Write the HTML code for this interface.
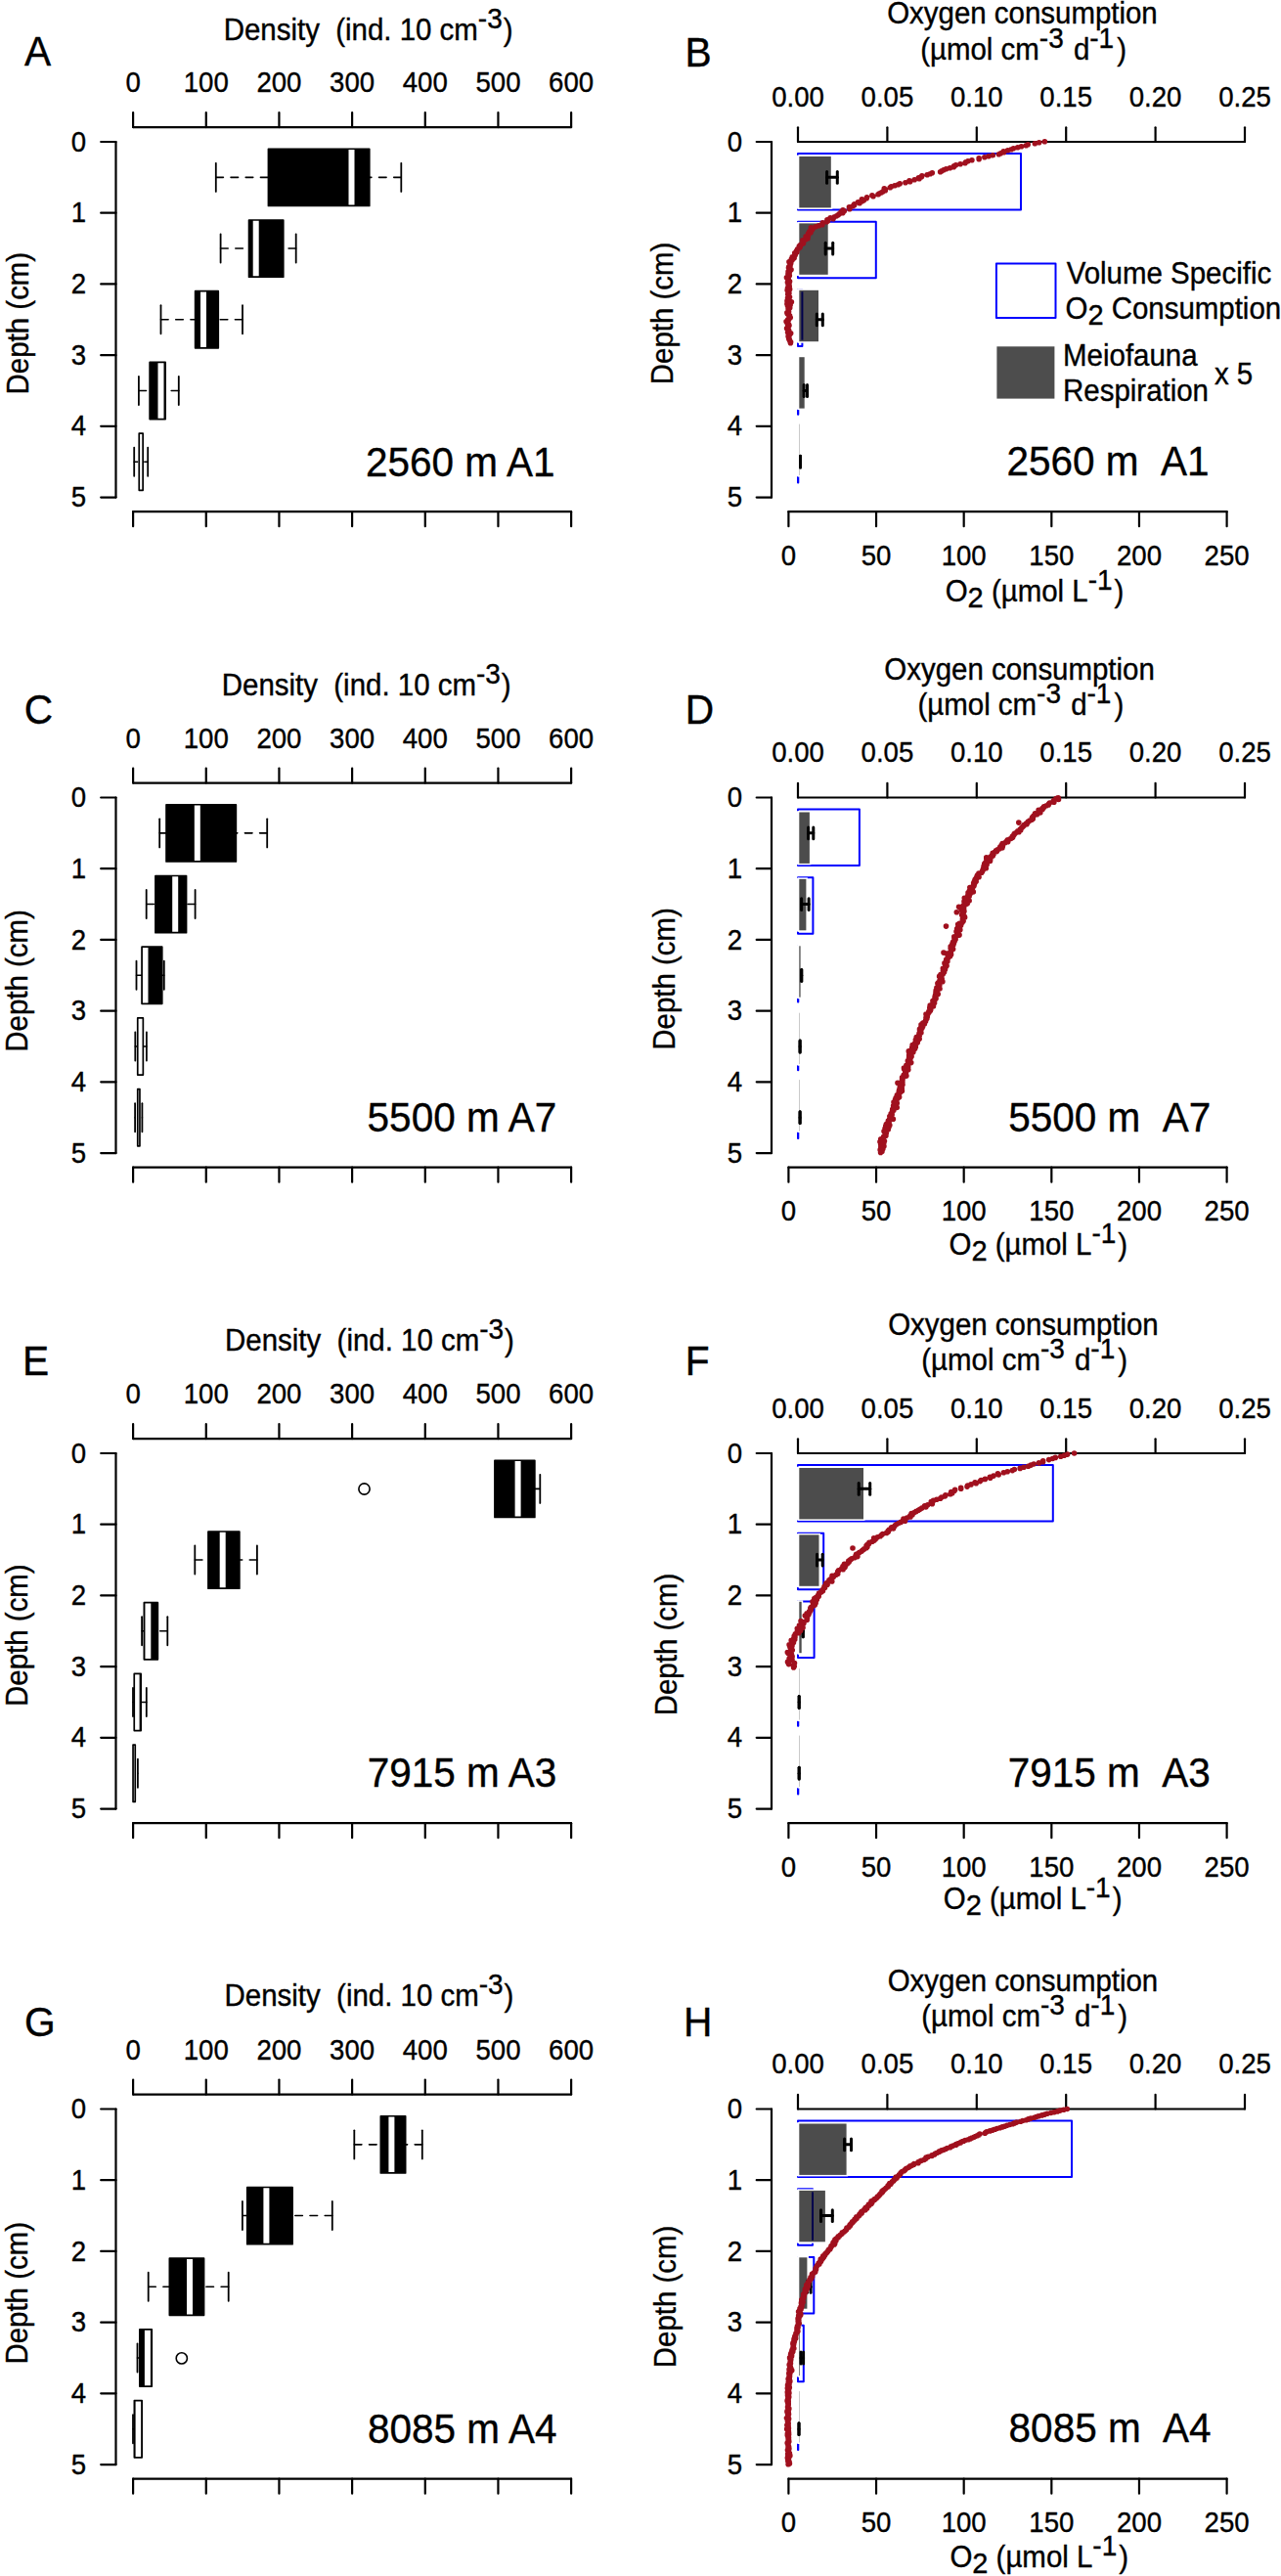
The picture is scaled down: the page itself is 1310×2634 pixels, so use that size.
<!DOCTYPE html>
<html><head><meta charset="utf-8"><style>
html,body{margin:0;padding:0;background:#fff;}
svg{display:block;}
text{font-family:"Liberation Sans", sans-serif;fill:#000;stroke:#000;stroke-width:0.35px;}
</style></head><body>
<svg width="1310" height="2634" viewBox="0 0 1310 2634">
<rect x="0" y="0" width="1310" height="2634" fill="#fff"/>
<line x1="136.1" y1="130.1" x2="584.12" y2="130.1" stroke="#000" stroke-width="2.2" stroke-linecap="round" />
<line x1="136.1" y1="130.1" x2="136.1" y2="115" stroke="#000" stroke-width="2.2" stroke-linecap="round" />
<text transform="translate(136.1 94.4) scale(1 1.04)" font-size="27.6" text-anchor="middle" >0</text>
<line x1="210.77" y1="130.1" x2="210.77" y2="115" stroke="#000" stroke-width="2.2" stroke-linecap="round" />
<text transform="translate(210.77 94.4) scale(1 1.04)" font-size="27.6" text-anchor="middle" >100</text>
<line x1="285.44" y1="130.1" x2="285.44" y2="115" stroke="#000" stroke-width="2.2" stroke-linecap="round" />
<text transform="translate(285.44 94.4) scale(1 1.04)" font-size="27.6" text-anchor="middle" >200</text>
<line x1="360.11" y1="130.1" x2="360.11" y2="115" stroke="#000" stroke-width="2.2" stroke-linecap="round" />
<text transform="translate(360.11 94.4) scale(1 1.04)" font-size="27.6" text-anchor="middle" >300</text>
<line x1="434.78" y1="130.1" x2="434.78" y2="115" stroke="#000" stroke-width="2.2" stroke-linecap="round" />
<text transform="translate(434.78 94.4) scale(1 1.04)" font-size="27.6" text-anchor="middle" >400</text>
<line x1="509.45" y1="130.1" x2="509.45" y2="115" stroke="#000" stroke-width="2.2" stroke-linecap="round" />
<text transform="translate(509.45 94.4) scale(1 1.04)" font-size="27.6" text-anchor="middle" >500</text>
<line x1="584.12" y1="130.1" x2="584.12" y2="115" stroke="#000" stroke-width="2.2" stroke-linecap="round" />
<text transform="translate(584.12 94.4) scale(1 1.04)" font-size="27.6" text-anchor="middle" >600</text>
<line x1="136.1" y1="523.2" x2="584.12" y2="523.2" stroke="#000" stroke-width="2.2" stroke-linecap="round" />
<line x1="136.1" y1="523.2" x2="136.1" y2="538.2" stroke="#000" stroke-width="2.2" stroke-linecap="round" />
<line x1="210.77" y1="523.2" x2="210.77" y2="538.2" stroke="#000" stroke-width="2.2" stroke-linecap="round" />
<line x1="285.44" y1="523.2" x2="285.44" y2="538.2" stroke="#000" stroke-width="2.2" stroke-linecap="round" />
<line x1="360.11" y1="523.2" x2="360.11" y2="538.2" stroke="#000" stroke-width="2.2" stroke-linecap="round" />
<line x1="434.78" y1="523.2" x2="434.78" y2="538.2" stroke="#000" stroke-width="2.2" stroke-linecap="round" />
<line x1="509.45" y1="523.2" x2="509.45" y2="538.2" stroke="#000" stroke-width="2.2" stroke-linecap="round" />
<line x1="584.12" y1="523.2" x2="584.12" y2="538.2" stroke="#000" stroke-width="2.2" stroke-linecap="round" />
<line x1="118.5" y1="145" x2="118.5" y2="508.55" stroke="#000" stroke-width="2.2" stroke-linecap="round" />
<line x1="118.5" y1="145" x2="103.2" y2="145" stroke="#000" stroke-width="2.2" stroke-linecap="round" />
<text transform="translate(88.1 154.6) scale(1 1.04)" font-size="27.6" text-anchor="end" >0</text>
<line x1="118.5" y1="217.71" x2="103.2" y2="217.71" stroke="#000" stroke-width="2.2" stroke-linecap="round" />
<text transform="translate(88.1 227.31) scale(1 1.04)" font-size="27.6" text-anchor="end" >1</text>
<line x1="118.5" y1="290.42" x2="103.2" y2="290.42" stroke="#000" stroke-width="2.2" stroke-linecap="round" />
<text transform="translate(88.1 300.02) scale(1 1.04)" font-size="27.6" text-anchor="end" >2</text>
<line x1="118.5" y1="363.13" x2="103.2" y2="363.13" stroke="#000" stroke-width="2.2" stroke-linecap="round" />
<text transform="translate(88.1 372.73) scale(1 1.04)" font-size="27.6" text-anchor="end" >3</text>
<line x1="118.5" y1="435.84" x2="103.2" y2="435.84" stroke="#000" stroke-width="2.2" stroke-linecap="round" />
<text transform="translate(88.1 445.44) scale(1 1.04)" font-size="27.6" text-anchor="end" >4</text>
<line x1="118.5" y1="508.55" x2="103.2" y2="508.55" stroke="#000" stroke-width="2.2" stroke-linecap="round" />
<text transform="translate(88.1 518.15) scale(1 1.04)" font-size="27.6" text-anchor="end" >5</text>
<text transform="translate(28.6 403.4) rotate(-90) scale(1 1.04)" font-size="29.45" text-anchor="start" >Depth (cm)</text>
<text transform="translate(228.7 40.5) scale(1 1.04)" font-size="29.45" text-anchor="start" >Density&#160;&#160;(ind. 10 cm<tspan dy="-11.5" font-size="28">-3</tspan><tspan dy="11.5" dx="1">)</tspan></text>
<text transform="translate(373.9 486.5) scale(1 1.04)" font-size="40.5" text-anchor="start" >2560 m A1</text>
<text transform="translate(24.9 67.2) scale(1 1.04)" font-size="40.7" text-anchor="start" >A</text>
<line x1="220.8" y1="181.35" x2="274.45" y2="181.35" stroke="#000" stroke-width="1.6" stroke-linecap="round" stroke-dasharray="7.6 7.6"/>
<line x1="410.3" y1="181.35" x2="377.75" y2="181.35" stroke="#000" stroke-width="1.6" stroke-linecap="round" stroke-dasharray="7.6 7.6"/>
<rect x="274.45" y="152.27" width="103.3" height="58.17" fill="#000" stroke="none" stroke-width="0" />
<rect x="356.5" y="152.27" width="6" height="58.17" fill="#fff" stroke="none" stroke-width="0" />
<rect x="274.45" y="152.27" width="103.3" height="58.17" fill="none" stroke="#000" stroke-width="1.7" stroke-linejoin="round"/>
<line x1="220.8" y1="166.81" x2="220.8" y2="195.9" stroke="#000" stroke-width="1.8" stroke-linecap="round" />
<line x1="410.3" y1="166.81" x2="410.3" y2="195.9" stroke="#000" stroke-width="1.8" stroke-linecap="round" />
<line x1="225.6" y1="254.06" x2="254.55" y2="254.06" stroke="#000" stroke-width="1.6" stroke-linecap="round" stroke-dasharray="7.6 7.6"/>
<line x1="302.7" y1="254.06" x2="289.75" y2="254.06" stroke="#000" stroke-width="1.6" stroke-linecap="round" stroke-dasharray="7.6 7.6"/>
<rect x="254.55" y="224.98" width="35.2" height="58.17" fill="#000" stroke="none" stroke-width="0" />
<rect x="258.7" y="224.98" width="6" height="58.17" fill="#fff" stroke="none" stroke-width="0" />
<rect x="254.55" y="224.98" width="35.2" height="58.17" fill="none" stroke="#000" stroke-width="1.7" stroke-linejoin="round"/>
<line x1="225.6" y1="239.52" x2="225.6" y2="268.61" stroke="#000" stroke-width="1.8" stroke-linecap="round" />
<line x1="302.7" y1="239.52" x2="302.7" y2="268.61" stroke="#000" stroke-width="1.8" stroke-linecap="round" />
<line x1="164.5" y1="326.77" x2="199.65" y2="326.77" stroke="#000" stroke-width="1.6" stroke-linecap="round" stroke-dasharray="7.6 7.6"/>
<line x1="248" y1="326.77" x2="223.25" y2="326.77" stroke="#000" stroke-width="1.6" stroke-linecap="round" stroke-dasharray="7.6 7.6"/>
<rect x="199.65" y="297.69" width="23.6" height="58.17" fill="#000" stroke="none" stroke-width="0" />
<rect x="205" y="297.69" width="6" height="58.17" fill="#fff" stroke="none" stroke-width="0" />
<rect x="199.65" y="297.69" width="23.6" height="58.17" fill="none" stroke="#000" stroke-width="1.7" stroke-linejoin="round"/>
<line x1="164.5" y1="312.23" x2="164.5" y2="341.32" stroke="#000" stroke-width="1.8" stroke-linecap="round" />
<line x1="248" y1="312.23" x2="248" y2="341.32" stroke="#000" stroke-width="1.8" stroke-linecap="round" />
<line x1="141.9" y1="399.49" x2="153.15" y2="399.49" stroke="#000" stroke-width="1.6" stroke-linecap="round" stroke-dasharray="7.6 7.6"/>
<line x1="182.8" y1="399.49" x2="169.15" y2="399.49" stroke="#000" stroke-width="1.6" stroke-linecap="round" stroke-dasharray="7.6 7.6"/>
<rect x="153.15" y="370.4" width="16" height="58.17" fill="#000" stroke="none" stroke-width="0" />
<rect x="161.5" y="370.4" width="6" height="58.17" fill="#fff" stroke="none" stroke-width="0" />
<rect x="153.15" y="370.4" width="16" height="58.17" fill="none" stroke="#000" stroke-width="1.7" stroke-linejoin="round"/>
<line x1="141.9" y1="384.94" x2="141.9" y2="414.03" stroke="#000" stroke-width="1.8" stroke-linecap="round" />
<line x1="182.8" y1="384.94" x2="182.8" y2="414.03" stroke="#000" stroke-width="1.8" stroke-linecap="round" />
<line x1="137.2" y1="472.19" x2="142.25" y2="472.19" stroke="#000" stroke-width="1.6" stroke-linecap="round" stroke-dasharray="7.6 7.6"/>
<line x1="151.2" y1="472.19" x2="146.15" y2="472.19" stroke="#000" stroke-width="1.6" stroke-linecap="round" stroke-dasharray="7.6 7.6"/>
<rect x="142.25" y="443.11" width="3.9" height="58.17" fill="#000" stroke="none" stroke-width="0" />
<rect x="141.2" y="443.11" width="6" height="58.17" fill="#fff" stroke="none" stroke-width="0" />
<rect x="142.25" y="443.11" width="3.9" height="58.17" fill="none" stroke="#000" stroke-width="1.7" stroke-linejoin="round"/>
<line x1="137.2" y1="457.65" x2="137.2" y2="486.74" stroke="#000" stroke-width="1.8" stroke-linecap="round" />
<line x1="151.2" y1="457.65" x2="151.2" y2="486.74" stroke="#000" stroke-width="1.8" stroke-linecap="round" />
<line x1="816" y1="145" x2="1273" y2="145" stroke="#000" stroke-width="2.2" stroke-linecap="round" />
<line x1="816" y1="145" x2="816" y2="130.3" stroke="#000" stroke-width="2.2" stroke-linecap="round" />
<text transform="translate(816 108.9) scale(1 1.04)" font-size="27.6" text-anchor="middle" >0.00</text>
<line x1="907.4" y1="145" x2="907.4" y2="130.3" stroke="#000" stroke-width="2.2" stroke-linecap="round" />
<text transform="translate(907.4 108.9) scale(1 1.04)" font-size="27.6" text-anchor="middle" >0.05</text>
<line x1="998.8" y1="145" x2="998.8" y2="130.3" stroke="#000" stroke-width="2.2" stroke-linecap="round" />
<text transform="translate(998.8 108.9) scale(1 1.04)" font-size="27.6" text-anchor="middle" >0.10</text>
<line x1="1090.2" y1="145" x2="1090.2" y2="130.3" stroke="#000" stroke-width="2.2" stroke-linecap="round" />
<text transform="translate(1090.2 108.9) scale(1 1.04)" font-size="27.6" text-anchor="middle" >0.15</text>
<line x1="1181.6" y1="145" x2="1181.6" y2="130.3" stroke="#000" stroke-width="2.2" stroke-linecap="round" />
<text transform="translate(1181.6 108.9) scale(1 1.04)" font-size="27.6" text-anchor="middle" >0.20</text>
<line x1="1273" y1="145" x2="1273" y2="130.3" stroke="#000" stroke-width="2.2" stroke-linecap="round" />
<text transform="translate(1273 108.9) scale(1 1.04)" font-size="27.6" text-anchor="middle" >0.25</text>
<line x1="806.4" y1="523.2" x2="1254.6" y2="523.2" stroke="#000" stroke-width="2.2" stroke-linecap="round" />
<line x1="806.4" y1="523.2" x2="806.4" y2="538.2" stroke="#000" stroke-width="2.2" stroke-linecap="round" />
<text transform="translate(806.4 577.6) scale(1 1.04)" font-size="27.6" text-anchor="middle" >0</text>
<line x1="896.04" y1="523.2" x2="896.04" y2="538.2" stroke="#000" stroke-width="2.2" stroke-linecap="round" />
<text transform="translate(896.04 577.6) scale(1 1.04)" font-size="27.6" text-anchor="middle" >50</text>
<line x1="985.68" y1="523.2" x2="985.68" y2="538.2" stroke="#000" stroke-width="2.2" stroke-linecap="round" />
<text transform="translate(985.68 577.6) scale(1 1.04)" font-size="27.6" text-anchor="middle" >100</text>
<line x1="1075.32" y1="523.2" x2="1075.32" y2="538.2" stroke="#000" stroke-width="2.2" stroke-linecap="round" />
<text transform="translate(1075.32 577.6) scale(1 1.04)" font-size="27.6" text-anchor="middle" >150</text>
<line x1="1164.96" y1="523.2" x2="1164.96" y2="538.2" stroke="#000" stroke-width="2.2" stroke-linecap="round" />
<text transform="translate(1164.96 577.6) scale(1 1.04)" font-size="27.6" text-anchor="middle" >200</text>
<line x1="1254.6" y1="523.2" x2="1254.6" y2="538.2" stroke="#000" stroke-width="2.2" stroke-linecap="round" />
<text transform="translate(1254.6 577.6) scale(1 1.04)" font-size="27.6" text-anchor="middle" >250</text>
<line x1="789" y1="145" x2="789" y2="508.55" stroke="#000" stroke-width="2.2" stroke-linecap="round" />
<line x1="789" y1="145" x2="773.7" y2="145" stroke="#000" stroke-width="2.2" stroke-linecap="round" />
<text transform="translate(759.2 154.6) scale(1 1.04)" font-size="27.6" text-anchor="end" >0</text>
<line x1="789" y1="217.71" x2="773.7" y2="217.71" stroke="#000" stroke-width="2.2" stroke-linecap="round" />
<text transform="translate(759.2 227.31) scale(1 1.04)" font-size="27.6" text-anchor="end" >1</text>
<line x1="789" y1="290.42" x2="773.7" y2="290.42" stroke="#000" stroke-width="2.2" stroke-linecap="round" />
<text transform="translate(759.2 300.02) scale(1 1.04)" font-size="27.6" text-anchor="end" >2</text>
<line x1="789" y1="363.13" x2="773.7" y2="363.13" stroke="#000" stroke-width="2.2" stroke-linecap="round" />
<text transform="translate(759.2 372.73) scale(1 1.04)" font-size="27.6" text-anchor="end" >3</text>
<line x1="789" y1="435.84" x2="773.7" y2="435.84" stroke="#000" stroke-width="2.2" stroke-linecap="round" />
<text transform="translate(759.2 445.44) scale(1 1.04)" font-size="27.6" text-anchor="end" >4</text>
<line x1="789" y1="508.55" x2="773.7" y2="508.55" stroke="#000" stroke-width="2.2" stroke-linecap="round" />
<text transform="translate(759.2 518.15) scale(1 1.04)" font-size="27.6" text-anchor="end" >5</text>
<text transform="translate(688 393.2) rotate(-90) scale(1 1.04)" font-size="29.45" text-anchor="start" >Depth (cm)</text>
<text transform="translate(907.2 24.4) scale(1 1.04)" font-size="29.45" text-anchor="start" >Oxygen consumption</text>
<text transform="translate(941.2 60.5) scale(1 1.04)" font-size="29.45" text-anchor="start" >(µmol cm<tspan dy="-11.5" font-size="28">-3</tspan><tspan dy="11.5" dx="2"> d</tspan><tspan dy="-11.5" font-size="28">-1</tspan><tspan dy="11.5" dx="3">)</tspan></text>
<text transform="translate(966.7 614.5) scale(1 1.04)" font-size="29.45" text-anchor="start" >O<tspan dy="6" font-size="29">2</tspan><tspan dy="-6"> (µmol L</tspan><tspan dy="-11.5" font-size="28">-1</tspan><tspan dy="11.5" dx="2">)</tspan></text>
<text transform="translate(1029.5 485.9) scale(1 1.04)" font-size="40.5" text-anchor="start" >2560 m&#160;&#160;A1</text>
<text transform="translate(700.4 67.5) scale(1 1.04)" font-size="40.7" text-anchor="start" >B</text>
<rect x="816" y="156.9" width="228" height="57.6" fill="none" stroke="#0000ff" stroke-width="2" stroke-linejoin="round"/>
<rect x="816" y="226.65" width="79.8" height="57.6" fill="none" stroke="#0000ff" stroke-width="2" stroke-linejoin="round"/>
<rect x="816" y="296.4" width="4.4" height="57.6" fill="none" stroke="#0000ff" stroke-width="2" stroke-linejoin="round"/>
<rect x="816" y="366.15" width="0.3" height="57.6" fill="none" stroke="#0000ff" stroke-width="2" stroke-linejoin="round"/>
<rect x="816" y="435.9" width="0.3" height="57.6" fill="none" stroke="#0000ff" stroke-width="2" stroke-linejoin="round"/>
<rect x="814.6" y="158.8" width="2.7" height="54.8" fill="#fff"/>
<rect x="814.6" y="227.2" width="2.7" height="54.8" fill="#fff"/>
<rect x="814.6" y="295.6" width="2.7" height="54.8" fill="#fff"/>
<rect x="814.6" y="364" width="2.7" height="54.8" fill="#fff"/>
<rect x="814.6" y="432.4" width="2.7" height="54.8" fill="#fff"/>
<rect x="817.3" y="160" width="32.5" height="52.4" fill="#000" fill-opacity="0.7" stroke="#fff" stroke-width="3" paint-order="stroke"/>
<rect x="817.3" y="228.4" width="29.4" height="52.4" fill="#000" fill-opacity="0.7" stroke="#fff" stroke-width="3" paint-order="stroke"/>
<rect x="817.3" y="296.8" width="19.7" height="52.4" fill="#000" fill-opacity="0.7" stroke="#fff" stroke-width="3" paint-order="stroke"/>
<rect x="817.3" y="365.2" width="5.4" height="52.4" fill="#000" fill-opacity="0.7" stroke="#fff" stroke-width="3" paint-order="stroke"/>
<rect x="817.3" y="433.6" width="0.3" height="52.4" fill="#000" fill-opacity="0.7" stroke="#fff" stroke-width="3" paint-order="stroke"/>
<line x1="845.6" y1="175.45" x2="845.6" y2="187.25" stroke="#000" stroke-width="3" stroke-linecap="round" />
<line x1="856.3" y1="175.45" x2="856.3" y2="187.25" stroke="#000" stroke-width="3" stroke-linecap="round" />
<line x1="845.6" y1="181.35" x2="856.3" y2="181.35" stroke="#000" stroke-width="3" stroke-linecap="round" />
<line x1="844.2" y1="248.16" x2="844.2" y2="259.96" stroke="#000" stroke-width="3" stroke-linecap="round" />
<line x1="851.7" y1="248.16" x2="851.7" y2="259.96" stroke="#000" stroke-width="3" stroke-linecap="round" />
<line x1="844.2" y1="254.06" x2="851.7" y2="254.06" stroke="#000" stroke-width="3" stroke-linecap="round" />
<line x1="835.3" y1="320.88" x2="835.3" y2="332.67" stroke="#000" stroke-width="3" stroke-linecap="round" />
<line x1="841.3" y1="320.88" x2="841.3" y2="332.67" stroke="#000" stroke-width="3" stroke-linecap="round" />
<line x1="835.3" y1="326.77" x2="841.3" y2="326.77" stroke="#000" stroke-width="3" stroke-linecap="round" />
<line x1="822.1" y1="393.59" x2="822.1" y2="405.38" stroke="#000" stroke-width="3" stroke-linecap="round" />
<line x1="825.5" y1="393.59" x2="825.5" y2="405.38" stroke="#000" stroke-width="3" stroke-linecap="round" />
<line x1="822.1" y1="399.49" x2="825.5" y2="399.49" stroke="#000" stroke-width="3" stroke-linecap="round" />
<line x1="818.5" y1="466.3" x2="818.5" y2="478.09" stroke="#000" stroke-width="3" stroke-linecap="round" />
<line x1="818.5" y1="466.3" x2="818.5" y2="478.09" stroke="#000" stroke-width="3" stroke-linecap="round" />
<line x1="818.5" y1="472.19" x2="818.5" y2="472.19" stroke="#000" stroke-width="3" stroke-linecap="round" />
<path d="M1068.36 144.7h0M1062.64 145.7h0M1058.32 146.7h0M1051.21 147.7h0M1049.3 148.7h0M1044.52 149.7h0M1040.74 150.7h0M1036.38 151.7h0M1034.21 152.7h0M1030.58 153.7h0M1026.28 154.7h0M1026.62 155.7h0M1023.38 156.7h0M1021.41 157.7h0M1015.34 158.7h0M1011.01 159.7h0M1006.86 160.7h0M1001.15 161.7h0M1001.14 162.7h0M993.91 163.7h0M989.86 164.7h0M987.67 165.7h0M986.99 166.7h0M982.08 167.7h0M977.49 168.7h0M975.59 169.7h0M975.31 170.7h0M971.46 171.7h0M967.54 172.7h0M965.06 173.7h0M963.11 174.7h0M961.62 175.7h0M953.29 176.7h0M951.32 177.7h0M948.2 178.7h0M942.83 179.7h0M942.43 180.7h0M939.42 181.7h0M940.04 182.7h0M935.22 183.7h0M929.98 184.7h0M930.66 185.7h0M925.92 186.7h0M920.23 187.7h0M918.46 188.7h0M914.99 189.7h0M911.42 190.7h0M910.27 191.7h0M904.29 192.7h0M905.32 193.7h0M905.34 194.7h0M903.1 195.7h0M901.51 196.7h0M899.46 197.7h0M898.04 198.7h0M891.89 199.7h0M893.01 200.7h0M886.55 201.7h0M886.21 202.7h0M881.38 203.7h0M883.41 204.7h0M881.64 205.7h0M877.42 206.7h0M879.05 207.7h0M873.71 208.7h0M873.63 209.7h0M872.11 210.7h0M868.42 211.7h0M868.72 212.7h0M868.86 213.7h0M862.02 214.7h0M863.35 215.7h0M860.12 216.7h0M861.76 217.7h0M858.29 218.7h0M857.14 219.7h0M855.55 220.7h0M853.36 221.7h0M849.16 222.7h0M852 223.7h0M845.91 224.7h0M846.7 225.7h0M845.44 226.7h0M841.24 227.7h0M841.01 228.7h0M840.9 229.7h0M837.24 230.7h0M834.18 231.7h0M829.4 232.7h0M831.16 233.7h0M830.57 234.7h0M829.57 235.7h0M827.83 236.7h0M829.01 237.7h0M826.58 238.7h0M826.47 239.7h0M826.59 240.7h0M824.15 241.7h0M824.03 242.7h0M826.03 243.7h0M823.92 244.7h0M820.83 245.7h0M821.46 246.7h0M821.46 247.7h0M821.51 248.7h0M819.63 249.7h0M818.2 250.7h0M817.31 251.7h0M818.16 252.7h0M817.13 253.7h0M815.57 254.7h0M815.27 255.7h0M814.35 256.7h0M814.94 257.7h0M812.73 258.7h0M813.4 259.7h0M813.2 260.7h0M812.24 261.7h0M810.28 262.7h0M812.16 263.7h0M809.44 264.7h0M810.19 265.7h0M808.45 266.7h0M806.96 267.7h0M808.78 268.7h0M808.56 269.7h0M807.9 270.7h0M808.04 271.7h0M806.79 272.7h0M806.48 273.7h0M806.91 274.7h0M809.02 275.7h0M807.68 276.7h0M806.09 277.7h0M807.2 278.7h0M805.99 279.7h0M805.95 280.7h0M807.34 281.7h0M805.77 282.7h0M804.46 283.7h0M805.26 284.7h0M806.33 285.7h0M806.35 286.7h0M807.57 287.7h0M805.42 288.7h0M807.03 289.7h0M806.72 290.7h0M806.13 291.7h0M807.26 292.7h0M806.93 293.7h0M805.49 294.7h0M807.65 295.7h0M805.15 296.7h0M806.57 297.7h0M806.5 298.7h0M806.95 299.7h0M805.67 300.7h0M806.42 301.7h0M806.29 302.7h0M807.52 303.7h0M805.54 304.7h0M806.48 305.7h0M806.11 306.7h0M804.98 307.7h0M809.39 308.7h0M806.41 309.7h0M804.91 310.7h0M808.16 311.7h0M805.5 312.7h0M807.14 313.7h0M807.72 314.7h0M806.08 315.7h0M806.32 316.7h0M806.17 317.7h0M806.57 318.7h0M804.86 319.7h0M805.21 320.7h0M806.33 321.7h0M807.56 322.7h0M807.05 323.7h0M808.22 324.7h0M807.06 325.7h0M805.74 326.7h0M806.16 327.7h0M804.07 328.7h0M805.24 329.7h0M805.18 330.7h0M806.6 331.7h0M807.01 332.7h0M805.68 333.7h0M805.65 334.7h0M804.6 335.7h0M806.18 336.7h0M806.63 337.7h0M806.88 338.7h0M805.58 339.7h0M808.68 340.7h0M807.86 341.7h0M806.5 342.7h0M806.09 343.7h0M806.37 344.7h0M806.95 345.7h0M806.83 346.7h0M807.46 347.7h0M807.86 348.7h0M808.6 349.7h0M808.44 350.7h0" stroke="#a0101e" stroke-width="5.6" stroke-linecap="round" fill="none"/>
<line x1="136.1" y1="800.6" x2="584.12" y2="800.6" stroke="#000" stroke-width="2.2" stroke-linecap="round" />
<line x1="136.1" y1="800.6" x2="136.1" y2="785.5" stroke="#000" stroke-width="2.2" stroke-linecap="round" />
<text transform="translate(136.1 764.9) scale(1 1.04)" font-size="27.6" text-anchor="middle" >0</text>
<line x1="210.77" y1="800.6" x2="210.77" y2="785.5" stroke="#000" stroke-width="2.2" stroke-linecap="round" />
<text transform="translate(210.77 764.9) scale(1 1.04)" font-size="27.6" text-anchor="middle" >100</text>
<line x1="285.44" y1="800.6" x2="285.44" y2="785.5" stroke="#000" stroke-width="2.2" stroke-linecap="round" />
<text transform="translate(285.44 764.9) scale(1 1.04)" font-size="27.6" text-anchor="middle" >200</text>
<line x1="360.11" y1="800.6" x2="360.11" y2="785.5" stroke="#000" stroke-width="2.2" stroke-linecap="round" />
<text transform="translate(360.11 764.9) scale(1 1.04)" font-size="27.6" text-anchor="middle" >300</text>
<line x1="434.78" y1="800.6" x2="434.78" y2="785.5" stroke="#000" stroke-width="2.2" stroke-linecap="round" />
<text transform="translate(434.78 764.9) scale(1 1.04)" font-size="27.6" text-anchor="middle" >400</text>
<line x1="509.45" y1="800.6" x2="509.45" y2="785.5" stroke="#000" stroke-width="2.2" stroke-linecap="round" />
<text transform="translate(509.45 764.9) scale(1 1.04)" font-size="27.6" text-anchor="middle" >500</text>
<line x1="584.12" y1="800.6" x2="584.12" y2="785.5" stroke="#000" stroke-width="2.2" stroke-linecap="round" />
<text transform="translate(584.12 764.9) scale(1 1.04)" font-size="27.6" text-anchor="middle" >600</text>
<line x1="136.1" y1="1193.7" x2="584.12" y2="1193.7" stroke="#000" stroke-width="2.2" stroke-linecap="round" />
<line x1="136.1" y1="1193.7" x2="136.1" y2="1208.7" stroke="#000" stroke-width="2.2" stroke-linecap="round" />
<line x1="210.77" y1="1193.7" x2="210.77" y2="1208.7" stroke="#000" stroke-width="2.2" stroke-linecap="round" />
<line x1="285.44" y1="1193.7" x2="285.44" y2="1208.7" stroke="#000" stroke-width="2.2" stroke-linecap="round" />
<line x1="360.11" y1="1193.7" x2="360.11" y2="1208.7" stroke="#000" stroke-width="2.2" stroke-linecap="round" />
<line x1="434.78" y1="1193.7" x2="434.78" y2="1208.7" stroke="#000" stroke-width="2.2" stroke-linecap="round" />
<line x1="509.45" y1="1193.7" x2="509.45" y2="1208.7" stroke="#000" stroke-width="2.2" stroke-linecap="round" />
<line x1="584.12" y1="1193.7" x2="584.12" y2="1208.7" stroke="#000" stroke-width="2.2" stroke-linecap="round" />
<line x1="118.5" y1="815.5" x2="118.5" y2="1179.05" stroke="#000" stroke-width="2.2" stroke-linecap="round" />
<line x1="118.5" y1="815.5" x2="103.2" y2="815.5" stroke="#000" stroke-width="2.2" stroke-linecap="round" />
<text transform="translate(88.1 825.1) scale(1 1.04)" font-size="27.6" text-anchor="end" >0</text>
<line x1="118.5" y1="888.21" x2="103.2" y2="888.21" stroke="#000" stroke-width="2.2" stroke-linecap="round" />
<text transform="translate(88.1 897.81) scale(1 1.04)" font-size="27.6" text-anchor="end" >1</text>
<line x1="118.5" y1="960.92" x2="103.2" y2="960.92" stroke="#000" stroke-width="2.2" stroke-linecap="round" />
<text transform="translate(88.1 970.52) scale(1 1.04)" font-size="27.6" text-anchor="end" >2</text>
<line x1="118.5" y1="1033.63" x2="103.2" y2="1033.63" stroke="#000" stroke-width="2.2" stroke-linecap="round" />
<text transform="translate(88.1 1043.23) scale(1 1.04)" font-size="27.6" text-anchor="end" >3</text>
<line x1="118.5" y1="1106.34" x2="103.2" y2="1106.34" stroke="#000" stroke-width="2.2" stroke-linecap="round" />
<text transform="translate(88.1 1115.94) scale(1 1.04)" font-size="27.6" text-anchor="end" >4</text>
<line x1="118.5" y1="1179.05" x2="103.2" y2="1179.05" stroke="#000" stroke-width="2.2" stroke-linecap="round" />
<text transform="translate(88.1 1188.65) scale(1 1.04)" font-size="27.6" text-anchor="end" >5</text>
<text transform="translate(27.8 1075.7) rotate(-90) scale(1 1.04)" font-size="29.45" text-anchor="start" >Depth (cm)</text>
<text transform="translate(226.8 710.5) scale(1 1.04)" font-size="29.45" text-anchor="start" >Density&#160;&#160;(ind. 10 cm<tspan dy="-11.5" font-size="28">-3</tspan><tspan dy="11.5" dx="1">)</tspan></text>
<text transform="translate(375.6 1156.5) scale(1 1.04)" font-size="40.5" text-anchor="start" >5500 m A7</text>
<text transform="translate(24.8 740.1) scale(1 1.04)" font-size="40.7" text-anchor="start" >C</text>
<line x1="163.2" y1="851.86" x2="170.05" y2="851.86" stroke="#000" stroke-width="1.6" stroke-linecap="round" stroke-dasharray="7.6 7.6"/>
<line x1="273.2" y1="851.86" x2="241.35" y2="851.86" stroke="#000" stroke-width="1.6" stroke-linecap="round" stroke-dasharray="7.6 7.6"/>
<rect x="170.05" y="822.77" width="71.3" height="58.17" fill="#000" stroke="none" stroke-width="0" />
<rect x="198.8" y="822.77" width="6" height="58.17" fill="#fff" stroke="none" stroke-width="0" />
<rect x="170.05" y="822.77" width="71.3" height="58.17" fill="none" stroke="#000" stroke-width="1.7" stroke-linejoin="round"/>
<line x1="163.2" y1="837.31" x2="163.2" y2="866.4" stroke="#000" stroke-width="1.8" stroke-linecap="round" />
<line x1="273.2" y1="837.31" x2="273.2" y2="866.4" stroke="#000" stroke-width="1.8" stroke-linecap="round" />
<line x1="149.7" y1="924.57" x2="158.95" y2="924.57" stroke="#000" stroke-width="1.6" stroke-linecap="round" stroke-dasharray="7.6 7.6"/>
<line x1="199.6" y1="924.57" x2="190.55" y2="924.57" stroke="#000" stroke-width="1.6" stroke-linecap="round" stroke-dasharray="7.6 7.6"/>
<rect x="158.95" y="895.48" width="31.6" height="58.17" fill="#000" stroke="none" stroke-width="0" />
<rect x="176.2" y="895.48" width="6" height="58.17" fill="#fff" stroke="none" stroke-width="0" />
<rect x="158.95" y="895.48" width="31.6" height="58.17" fill="none" stroke="#000" stroke-width="1.7" stroke-linejoin="round"/>
<line x1="149.7" y1="910.02" x2="149.7" y2="939.11" stroke="#000" stroke-width="1.8" stroke-linecap="round" />
<line x1="199.6" y1="910.02" x2="199.6" y2="939.11" stroke="#000" stroke-width="1.8" stroke-linecap="round" />
<line x1="139.5" y1="997.27" x2="145.05" y2="997.27" stroke="#000" stroke-width="1.6" stroke-linecap="round" stroke-dasharray="7.6 7.6"/>
<line x1="167.8" y1="997.27" x2="165.75" y2="997.27" stroke="#000" stroke-width="1.6" stroke-linecap="round" stroke-dasharray="7.6 7.6"/>
<rect x="145.05" y="968.19" width="20.7" height="58.17" fill="#000" stroke="none" stroke-width="0" />
<rect x="145.5" y="968.19" width="6" height="58.17" fill="#fff" stroke="none" stroke-width="0" />
<rect x="145.05" y="968.19" width="20.7" height="58.17" fill="none" stroke="#000" stroke-width="1.7" stroke-linejoin="round"/>
<line x1="139.5" y1="982.73" x2="139.5" y2="1011.82" stroke="#000" stroke-width="1.8" stroke-linecap="round" />
<line x1="167.8" y1="982.73" x2="167.8" y2="1011.82" stroke="#000" stroke-width="1.8" stroke-linecap="round" />
<line x1="138.3" y1="1069.98" x2="140.75" y2="1069.98" stroke="#000" stroke-width="1.6" stroke-linecap="round" stroke-dasharray="7.6 7.6"/>
<line x1="149.9" y1="1069.98" x2="146.35" y2="1069.98" stroke="#000" stroke-width="1.6" stroke-linecap="round" stroke-dasharray="7.6 7.6"/>
<rect x="140.75" y="1040.9" width="5.6" height="58.17" fill="#000" stroke="none" stroke-width="0" />
<rect x="140.5" y="1040.9" width="6" height="58.17" fill="#fff" stroke="none" stroke-width="0" />
<rect x="140.75" y="1040.9" width="5.6" height="58.17" fill="none" stroke="#000" stroke-width="1.7" stroke-linejoin="round"/>
<line x1="138.3" y1="1055.44" x2="138.3" y2="1084.53" stroke="#000" stroke-width="1.8" stroke-linecap="round" />
<line x1="149.9" y1="1055.44" x2="149.9" y2="1084.53" stroke="#000" stroke-width="1.8" stroke-linecap="round" />
<line x1="138.1" y1="1142.69" x2="140.75" y2="1142.69" stroke="#000" stroke-width="1.6" stroke-linecap="round" stroke-dasharray="7.6 7.6"/>
<line x1="145.4" y1="1142.69" x2="142.95" y2="1142.69" stroke="#000" stroke-width="1.6" stroke-linecap="round" stroke-dasharray="7.6 7.6"/>
<rect x="140.75" y="1113.61" width="2.2" height="58.17" fill="#000" stroke="none" stroke-width="0" />
<rect x="138.8" y="1113.61" width="6" height="58.17" fill="#fff" stroke="none" stroke-width="0" />
<rect x="140.75" y="1113.61" width="2.2" height="58.17" fill="none" stroke="#000" stroke-width="1.7" stroke-linejoin="round"/>
<line x1="138.1" y1="1128.15" x2="138.1" y2="1157.24" stroke="#000" stroke-width="1.8" stroke-linecap="round" />
<line x1="145.4" y1="1128.15" x2="145.4" y2="1157.24" stroke="#000" stroke-width="1.8" stroke-linecap="round" />
<line x1="816" y1="815.5" x2="1273" y2="815.5" stroke="#000" stroke-width="2.2" stroke-linecap="round" />
<line x1="816" y1="815.5" x2="816" y2="800.8" stroke="#000" stroke-width="2.2" stroke-linecap="round" />
<text transform="translate(816 779.4) scale(1 1.04)" font-size="27.6" text-anchor="middle" >0.00</text>
<line x1="907.4" y1="815.5" x2="907.4" y2="800.8" stroke="#000" stroke-width="2.2" stroke-linecap="round" />
<text transform="translate(907.4 779.4) scale(1 1.04)" font-size="27.6" text-anchor="middle" >0.05</text>
<line x1="998.8" y1="815.5" x2="998.8" y2="800.8" stroke="#000" stroke-width="2.2" stroke-linecap="round" />
<text transform="translate(998.8 779.4) scale(1 1.04)" font-size="27.6" text-anchor="middle" >0.10</text>
<line x1="1090.2" y1="815.5" x2="1090.2" y2="800.8" stroke="#000" stroke-width="2.2" stroke-linecap="round" />
<text transform="translate(1090.2 779.4) scale(1 1.04)" font-size="27.6" text-anchor="middle" >0.15</text>
<line x1="1181.6" y1="815.5" x2="1181.6" y2="800.8" stroke="#000" stroke-width="2.2" stroke-linecap="round" />
<text transform="translate(1181.6 779.4) scale(1 1.04)" font-size="27.6" text-anchor="middle" >0.20</text>
<line x1="1273" y1="815.5" x2="1273" y2="800.8" stroke="#000" stroke-width="2.2" stroke-linecap="round" />
<text transform="translate(1273 779.4) scale(1 1.04)" font-size="27.6" text-anchor="middle" >0.25</text>
<line x1="806.4" y1="1193.7" x2="1254.6" y2="1193.7" stroke="#000" stroke-width="2.2" stroke-linecap="round" />
<line x1="806.4" y1="1193.7" x2="806.4" y2="1208.7" stroke="#000" stroke-width="2.2" stroke-linecap="round" />
<text transform="translate(806.4 1248.1) scale(1 1.04)" font-size="27.6" text-anchor="middle" >0</text>
<line x1="896.04" y1="1193.7" x2="896.04" y2="1208.7" stroke="#000" stroke-width="2.2" stroke-linecap="round" />
<text transform="translate(896.04 1248.1) scale(1 1.04)" font-size="27.6" text-anchor="middle" >50</text>
<line x1="985.68" y1="1193.7" x2="985.68" y2="1208.7" stroke="#000" stroke-width="2.2" stroke-linecap="round" />
<text transform="translate(985.68 1248.1) scale(1 1.04)" font-size="27.6" text-anchor="middle" >100</text>
<line x1="1075.32" y1="1193.7" x2="1075.32" y2="1208.7" stroke="#000" stroke-width="2.2" stroke-linecap="round" />
<text transform="translate(1075.32 1248.1) scale(1 1.04)" font-size="27.6" text-anchor="middle" >150</text>
<line x1="1164.96" y1="1193.7" x2="1164.96" y2="1208.7" stroke="#000" stroke-width="2.2" stroke-linecap="round" />
<text transform="translate(1164.96 1248.1) scale(1 1.04)" font-size="27.6" text-anchor="middle" >200</text>
<line x1="1254.6" y1="1193.7" x2="1254.6" y2="1208.7" stroke="#000" stroke-width="2.2" stroke-linecap="round" />
<text transform="translate(1254.6 1248.1) scale(1 1.04)" font-size="27.6" text-anchor="middle" >250</text>
<line x1="789" y1="815.5" x2="789" y2="1179.05" stroke="#000" stroke-width="2.2" stroke-linecap="round" />
<line x1="789" y1="815.5" x2="773.7" y2="815.5" stroke="#000" stroke-width="2.2" stroke-linecap="round" />
<text transform="translate(759.2 825.1) scale(1 1.04)" font-size="27.6" text-anchor="end" >0</text>
<line x1="789" y1="888.21" x2="773.7" y2="888.21" stroke="#000" stroke-width="2.2" stroke-linecap="round" />
<text transform="translate(759.2 897.81) scale(1 1.04)" font-size="27.6" text-anchor="end" >1</text>
<line x1="789" y1="960.92" x2="773.7" y2="960.92" stroke="#000" stroke-width="2.2" stroke-linecap="round" />
<text transform="translate(759.2 970.52) scale(1 1.04)" font-size="27.6" text-anchor="end" >2</text>
<line x1="789" y1="1033.63" x2="773.7" y2="1033.63" stroke="#000" stroke-width="2.2" stroke-linecap="round" />
<text transform="translate(759.2 1043.23) scale(1 1.04)" font-size="27.6" text-anchor="end" >3</text>
<line x1="789" y1="1106.34" x2="773.7" y2="1106.34" stroke="#000" stroke-width="2.2" stroke-linecap="round" />
<text transform="translate(759.2 1115.94) scale(1 1.04)" font-size="27.6" text-anchor="end" >4</text>
<line x1="789" y1="1179.05" x2="773.7" y2="1179.05" stroke="#000" stroke-width="2.2" stroke-linecap="round" />
<text transform="translate(759.2 1188.65) scale(1 1.04)" font-size="27.6" text-anchor="end" >5</text>
<text transform="translate(690.3 1073.7) rotate(-90) scale(1 1.04)" font-size="29.45" text-anchor="start" >Depth (cm)</text>
<text transform="translate(904.3 694.9) scale(1 1.04)" font-size="29.45" text-anchor="start" >Oxygen consumption</text>
<text transform="translate(938.5 731) scale(1 1.04)" font-size="29.45" text-anchor="start" >(µmol cm<tspan dy="-11.5" font-size="28">-3</tspan><tspan dy="11.5" dx="2"> d</tspan><tspan dy="-11.5" font-size="28">-1</tspan><tspan dy="11.5" dx="3">)</tspan></text>
<text transform="translate(970.5 1282.7) scale(1 1.04)" font-size="29.45" text-anchor="start" >O<tspan dy="6" font-size="29">2</tspan><tspan dy="-6"> (µmol L</tspan><tspan dy="-11.5" font-size="28">-1</tspan><tspan dy="11.5" dx="2">)</tspan></text>
<text transform="translate(1031.3 1156.5) scale(1 1.04)" font-size="40.5" text-anchor="start" >5500 m&#160;&#160;A7</text>
<text transform="translate(700.7 740) scale(1 1.04)" font-size="40.7" text-anchor="start" >D</text>
<rect x="816" y="827.4" width="62.9" height="57.6" fill="none" stroke="#0000ff" stroke-width="2" stroke-linejoin="round"/>
<rect x="816" y="897.15" width="15.4" height="57.6" fill="none" stroke="#0000ff" stroke-width="2" stroke-linejoin="round"/>
<rect x="816" y="966.9" width="0.3" height="57.6" fill="none" stroke="#0000ff" stroke-width="2" stroke-linejoin="round"/>
<rect x="816" y="1036.65" width="0.3" height="57.6" fill="none" stroke="#0000ff" stroke-width="2" stroke-linejoin="round"/>
<rect x="816" y="1106.4" width="0.3" height="57.6" fill="none" stroke="#0000ff" stroke-width="2" stroke-linejoin="round"/>
<rect x="814.6" y="829.3" width="2.7" height="54.8" fill="#fff"/>
<rect x="814.6" y="897.7" width="2.7" height="54.8" fill="#fff"/>
<rect x="814.6" y="966.1" width="2.7" height="54.8" fill="#fff"/>
<rect x="814.6" y="1034.5" width="2.7" height="54.8" fill="#fff"/>
<rect x="814.6" y="1102.9" width="2.7" height="54.8" fill="#fff"/>
<rect x="817.3" y="830.5" width="10.6" height="52.4" fill="#000" fill-opacity="0.7" stroke="#fff" stroke-width="3" paint-order="stroke"/>
<rect x="817.3" y="898.9" width="7.1" height="52.4" fill="#000" fill-opacity="0.7" stroke="#fff" stroke-width="3" paint-order="stroke"/>
<rect x="817.3" y="967.3" width="1.3" height="52.4" fill="#000" fill-opacity="0.7" stroke="#fff" stroke-width="3" paint-order="stroke"/>
<rect x="817.3" y="1035.7" width="0.3" height="52.4" fill="#000" fill-opacity="0.7" stroke="#fff" stroke-width="3" paint-order="stroke"/>
<rect x="817.3" y="1104.1" width="0.3" height="52.4" fill="#000" fill-opacity="0.7" stroke="#fff" stroke-width="3" paint-order="stroke"/>
<line x1="826.6" y1="845.96" x2="826.6" y2="857.75" stroke="#000" stroke-width="3" stroke-linecap="round" />
<line x1="831.8" y1="845.96" x2="831.8" y2="857.75" stroke="#000" stroke-width="3" stroke-linecap="round" />
<line x1="826.6" y1="851.86" x2="831.8" y2="851.86" stroke="#000" stroke-width="3" stroke-linecap="round" />
<line x1="819.6" y1="918.67" x2="819.6" y2="930.47" stroke="#000" stroke-width="3" stroke-linecap="round" />
<line x1="827.1" y1="918.67" x2="827.1" y2="930.47" stroke="#000" stroke-width="3" stroke-linecap="round" />
<line x1="819.6" y1="924.57" x2="827.1" y2="924.57" stroke="#000" stroke-width="3" stroke-linecap="round" />
<line x1="819.7" y1="991.38" x2="819.7" y2="1003.17" stroke="#000" stroke-width="3" stroke-linecap="round" />
<line x1="819.7" y1="991.38" x2="819.7" y2="1003.17" stroke="#000" stroke-width="3" stroke-linecap="round" />
<line x1="819.7" y1="997.27" x2="819.7" y2="997.27" stroke="#000" stroke-width="3" stroke-linecap="round" />
<line x1="818.1" y1="1064.08" x2="818.1" y2="1075.88" stroke="#000" stroke-width="3" stroke-linecap="round" />
<line x1="818.1" y1="1064.08" x2="818.1" y2="1075.88" stroke="#000" stroke-width="3" stroke-linecap="round" />
<line x1="818.1" y1="1069.98" x2="818.1" y2="1069.98" stroke="#000" stroke-width="3" stroke-linecap="round" />
<line x1="818.1" y1="1136.79" x2="818.1" y2="1148.6" stroke="#000" stroke-width="3" stroke-linecap="round" />
<line x1="818.1" y1="1136.79" x2="818.1" y2="1148.6" stroke="#000" stroke-width="3" stroke-linecap="round" />
<line x1="818.1" y1="1142.69" x2="818.1" y2="1142.69" stroke="#000" stroke-width="3" stroke-linecap="round" />
<path d="M1082.17 815.7h0M1080.05 816.6h0M1082.5 817.5h0M1077.84 818.4h0M1077.13 819.3h0M1077.84 820.2h0M1073.37 821.1h0M1072.52 822h0M1072.2 822.9h0M1070.14 823.8h0M1067.62 824.7h0M1067.54 825.6h0M1066.04 826.5h0M1066.11 827.4h0M1062.09 828.3h0M1062.33 829.2h0M1063.79 830.1h0M1063.79 831h0M1058.53 831.9h0M1060.46 832.8h0M1057.47 833.7h0M1056.73 834.6h0M1055.79 835.5h0M1055.41 836.4h0M1056.28 837.3h0M1054.92 838.2h0M1053.08 839.1h0M1051.52 840h0M1050.99 840.9h0M1049.84 841.8h0M1049.99 842.7h0M1047.13 843.6h0M1046.93 844.5h0M1045.8 845.4h0M1044.87 846.3h0M1044.26 847.2h0M1043.19 848.1h0M1043.67 849h0M1040.82 849.9h0M1041.96 850.8h0M1038.54 851.7h0M1037.31 852.6h0M1037.06 853.5h0M1036.4 854.4h0M1035.28 855.3h0M1035.61 856.2h0M1034.4 857.1h0M1032.55 858h0M1030.45 858.9h0M1029.74 859.8h0M1030.7 860.7h0M1028.14 861.6h0M1025.15 862.5h0M1024.96 863.4h0M1024.13 864.3h0M1025.41 865.2h0M1022.81 866.1h0M1024.92 867h0M1021.85 867.9h0M1020.18 868.8h0M1018.48 869.7h0M1019.36 870.6h0M1016.85 871.5h0M1015.19 872.4h0M1016.14 873.3h0M1014.6 874.2h0M1015.37 875.1h0M1013.02 876h0M1008.74 876.9h0M1012.86 877.8h0M1008.81 878.7h0M1012.68 879.6h0M1012.5 880.5h0M1009.04 881.4h0M1007.55 882.3h0M1006.71 883.2h0M1009.12 884.1h0M1007.16 885h0M1006.06 885.9h0M1005.92 886.8h0M1008.34 887.7h0M1005.45 888.6h0M1005.34 889.5h0M1004.75 890.4h0M1004.44 891.3h0M1003.87 892.2h0M1000.96 893.1h0M1001 894h0M999.71 894.9h0M999.21 895.8h0M1001.07 896.7h0M998.42 897.6h0M998.47 898.5h0M997.19 899.4h0M996.85 900.3h0M998.19 901.2h0M996.14 902.1h0M995.65 903h0M996.48 903.9h0M996.06 904.8h0M996.01 905.7h0M994.77 906.6h0M991.84 907.5h0M994.52 908.4h0M993.93 909.3h0M994.19 910.2h0M991.35 911.1h0M995.33 912h0M990.05 912.9h0M992.2 913.8h0M990.93 914.7h0M989.85 915.6h0M991.16 916.5h0M989.34 917.4h0M986.29 918.3h0M987.43 919.2h0M989.18 920.1h0M991.15 921h0M985.99 921.9h0M987.61 922.8h0M989.26 923.7h0M987.92 924.6h0M986.42 925.5h0M984.85 926.4h0M984.18 927.3h0M985.34 928.2h0M985.64 929.1h0M983.01 930h0M983.55 930.9h0M985.95 931.8h0M984.83 932.7h0M984.17 933.6h0M984.4 934.5h0M983.63 935.4h0M985.65 936.3h0M986.33 937.2h0M986.63 938.1h0M984.6 939h0M984.38 939.9h0M985.04 940.8h0M985.13 941.7h0M984.49 942.6h0M983.89 943.5h0M981.2 944.4h0M979.67 945.3h0M982.6 946.2h0M981.06 947.1h0M980.82 948h0M979.45 948.9h0M978.62 949.8h0M981.84 950.7h0M980.32 951.6h0M978.03 952.5h0M979.62 953.4h0M979.19 954.3h0M979.16 955.2h0M981.06 956.1h0M977.77 957h0M975.81 957.9h0M977.16 958.8h0M975.91 959.7h0M977.1 960.6h0M976.29 961.5h0M976.1 962.4h0M974.55 963.3h0M975.48 964.2h0M973.93 965.1h0M974.94 966h0M973.55 966.9h0M972.18 967.8h0M973.98 968.7h0M972.12 969.6h0M974.62 970.5h0M973.03 971.4h0M972.78 972.3h0M972.01 973.2h0M971.51 974.1h0M968.19 975h0M972.58 975.9h0M969.62 976.8h0M971.61 977.7h0M969.21 978.6h0M969.51 979.5h0M969.06 980.4h0M967.65 981.3h0M968.42 982.2h0M968.91 983.1h0M967.4 984h0M965.95 984.9h0M966.5 985.8h0M967.23 986.7h0M968.07 987.6h0M967.34 988.5h0M966.31 989.4h0M964.32 990.3h0M966.47 991.2h0M965.01 992.1h0M964.35 993h0M965.54 993.9h0M964.85 994.8h0M964.39 995.7h0M961.94 996.6h0M962.34 997.5h0M960.62 998.4h0M962.8 999.3h0M962.29 1000.2h0M963.18 1001.1h0M961.96 1002h0M960.94 1002.9h0M963.89 1003.8h0M959.55 1004.7h0M958.89 1005.6h0M959.58 1006.5h0M960.8 1007.4h0M959.41 1008.3h0M959.04 1009.2h0M957.9 1010.1h0M961.02 1011h0M958.03 1011.9h0M957.18 1012.8h0M958.15 1013.7h0M956.99 1014.6h0M957.46 1015.5h0M959.21 1016.4h0M956.6 1017.3h0M956.83 1018.2h0M956.12 1019.1h0M956.06 1020h0M957.08 1020.9h0M956.41 1021.8h0M954.98 1022.7h0M953.91 1023.6h0M954.63 1024.5h0M955.58 1025.4h0M954.15 1026.3h0M953.68 1027.2h0M951.16 1028.1h0M954.46 1029h0M950.87 1029.9h0M950.78 1030.8h0M951.58 1031.7h0M951.73 1032.6h0M951.34 1033.5h0M949.85 1034.4h0M949.96 1035.3h0M949.08 1036.2h0M946.99 1037.1h0M948.48 1038h0M947.36 1038.9h0M948.25 1039.8h0M946.96 1040.7h0M947.84 1041.6h0M946.95 1042.5h0M946.68 1043.4h0M946.57 1044.3h0M945.41 1045.2h0M943.83 1046.1h0M945.38 1047h0M942.02 1047.9h0M942.81 1048.8h0M943.62 1049.7h0M941.8 1050.6h0M942.77 1051.5h0M940.49 1052.4h0M940.53 1053.3h0M941.64 1054.2h0M941.57 1055.1h0M941.91 1056h0M939.98 1056.9h0M940.18 1057.8h0M940.32 1058.7h0M939.82 1059.6h0M937.23 1060.5h0M937.88 1061.4h0M940.18 1062.3h0M936.37 1063.2h0M938.47 1064.1h0M936.75 1065h0M938.25 1065.9h0M935.55 1066.8h0M936.24 1067.7h0M933.15 1068.6h0M935.32 1069.5h0M936.36 1070.4h0M932.6 1071.3h0M935.68 1072.2h0M932.79 1073.1h0M933.24 1074h0M929.29 1074.9h0M933.89 1075.8h0M930.95 1076.7h0M931 1077.6h0M929.67 1078.5h0M929.67 1079.4h0M932.1 1080.3h0M929.62 1081.2h0M931.11 1082.1h0M929.4 1083h0M929.76 1083.9h0M928.34 1084.8h0M929.24 1085.7h0M931.75 1086.6h0M928.94 1087.5h0M928.45 1088.4h0M926.88 1089.3h0M928.53 1090.2h0M928.7 1091.1h0M924.44 1092h0M924.57 1092.9h0M928.82 1093.8h0M926.37 1094.7h0M925.71 1095.6h0M926 1096.5h0M926.43 1097.4h0M925.77 1098.3h0M924.17 1099.2h0M926.88 1100.1h0M923.96 1101h0M922.55 1101.9h0M922.72 1102.8h0M923.03 1103.7h0M922.46 1104.6h0M922.47 1105.5h0M922.89 1106.4h0M917.97 1107.3h0M920.99 1108.2h0M923 1109.1h0M922.25 1110h0M920.39 1110.9h0M920.22 1111.8h0M922.27 1112.7h0M920.21 1113.6h0M919.59 1114.5h0M922.43 1115.4h0M919.26 1116.3h0M920.36 1117.2h0M919.13 1118.1h0M918.97 1119h0M917.38 1119.9h0M917.23 1120.8h0M919.64 1121.7h0M916.22 1122.6h0M917.75 1123.5h0M915.53 1124.4h0M916.45 1125.3h0M916.4 1126.2h0M914 1127.1h0M917.28 1128h0M915.24 1128.9h0M916.73 1129.8h0M913.61 1130.7h0M915.69 1131.6h0M917.21 1132.5h0M914.14 1133.4h0M912.69 1134.3h0M913.84 1135.2h0M913.08 1136.1h0M912.3 1137h0M912.09 1137.9h0M911.17 1138.8h0M912.15 1139.7h0M910.77 1140.6h0M909.83 1141.5h0M911.68 1142.4h0M910.07 1143.3h0M913.4 1144.2h0M909.31 1145.1h0M908.37 1146h0M908.27 1146.9h0M909.14 1147.8h0M907.43 1148.7h0M906.37 1149.6h0M909.82 1150.5h0M905.77 1151.4h0M909.03 1152.3h0M906.93 1153.2h0M905.03 1154.1h0M908.23 1155h0M905.44 1155.9h0M904.04 1156.8h0M905.08 1157.7h0M906.32 1158.6h0M905.19 1159.5h0M905.05 1160.4h0M905.94 1161.3h0M903.65 1162.2h0M903.59 1163.1h0M902.56 1164h0M900.76 1164.9h0M902.29 1165.8h0M904.44 1166.7h0M899.96 1167.6h0M903.84 1168.5h0M902.31 1169.4h0M900.67 1170.3h0M901.83 1171.2h0M903.95 1172.1h0M900.8 1173h0M902.48 1173.9h0M902.85 1174.8h0M900.15 1175.7h0M902.09 1176.6h0M901.92 1177.5h0M900.59 1178.4h0" stroke="#a0101e" stroke-width="5.6" stroke-linecap="round" fill="none"/>
<circle cx="967.5" cy="947.1" r="2.8" fill="#a0101e"/>
<circle cx="965" cy="974.1" r="2.8" fill="#a0101e"/>
<circle cx="980.6" cy="927.2" r="2.8" fill="#a0101e"/>
<circle cx="978.3" cy="932.7" r="2.8" fill="#a0101e"/>
<circle cx="1041.8" cy="841.1" r="2.8" fill="#a0101e"/>
<line x1="136.1" y1="1471.1" x2="584.12" y2="1471.1" stroke="#000" stroke-width="2.2" stroke-linecap="round" />
<line x1="136.1" y1="1471.1" x2="136.1" y2="1456" stroke="#000" stroke-width="2.2" stroke-linecap="round" />
<text transform="translate(136.1 1435.4) scale(1 1.04)" font-size="27.6" text-anchor="middle" >0</text>
<line x1="210.77" y1="1471.1" x2="210.77" y2="1456" stroke="#000" stroke-width="2.2" stroke-linecap="round" />
<text transform="translate(210.77 1435.4) scale(1 1.04)" font-size="27.6" text-anchor="middle" >100</text>
<line x1="285.44" y1="1471.1" x2="285.44" y2="1456" stroke="#000" stroke-width="2.2" stroke-linecap="round" />
<text transform="translate(285.44 1435.4) scale(1 1.04)" font-size="27.6" text-anchor="middle" >200</text>
<line x1="360.11" y1="1471.1" x2="360.11" y2="1456" stroke="#000" stroke-width="2.2" stroke-linecap="round" />
<text transform="translate(360.11 1435.4) scale(1 1.04)" font-size="27.6" text-anchor="middle" >300</text>
<line x1="434.78" y1="1471.1" x2="434.78" y2="1456" stroke="#000" stroke-width="2.2" stroke-linecap="round" />
<text transform="translate(434.78 1435.4) scale(1 1.04)" font-size="27.6" text-anchor="middle" >400</text>
<line x1="509.45" y1="1471.1" x2="509.45" y2="1456" stroke="#000" stroke-width="2.2" stroke-linecap="round" />
<text transform="translate(509.45 1435.4) scale(1 1.04)" font-size="27.6" text-anchor="middle" >500</text>
<line x1="584.12" y1="1471.1" x2="584.12" y2="1456" stroke="#000" stroke-width="2.2" stroke-linecap="round" />
<text transform="translate(584.12 1435.4) scale(1 1.04)" font-size="27.6" text-anchor="middle" >600</text>
<line x1="136.1" y1="1864.2" x2="584.12" y2="1864.2" stroke="#000" stroke-width="2.2" stroke-linecap="round" />
<line x1="136.1" y1="1864.2" x2="136.1" y2="1879.2" stroke="#000" stroke-width="2.2" stroke-linecap="round" />
<line x1="210.77" y1="1864.2" x2="210.77" y2="1879.2" stroke="#000" stroke-width="2.2" stroke-linecap="round" />
<line x1="285.44" y1="1864.2" x2="285.44" y2="1879.2" stroke="#000" stroke-width="2.2" stroke-linecap="round" />
<line x1="360.11" y1="1864.2" x2="360.11" y2="1879.2" stroke="#000" stroke-width="2.2" stroke-linecap="round" />
<line x1="434.78" y1="1864.2" x2="434.78" y2="1879.2" stroke="#000" stroke-width="2.2" stroke-linecap="round" />
<line x1="509.45" y1="1864.2" x2="509.45" y2="1879.2" stroke="#000" stroke-width="2.2" stroke-linecap="round" />
<line x1="584.12" y1="1864.2" x2="584.12" y2="1879.2" stroke="#000" stroke-width="2.2" stroke-linecap="round" />
<line x1="118.5" y1="1486" x2="118.5" y2="1849.55" stroke="#000" stroke-width="2.2" stroke-linecap="round" />
<line x1="118.5" y1="1486" x2="103.2" y2="1486" stroke="#000" stroke-width="2.2" stroke-linecap="round" />
<text transform="translate(88.1 1495.6) scale(1 1.04)" font-size="27.6" text-anchor="end" >0</text>
<line x1="118.5" y1="1558.71" x2="103.2" y2="1558.71" stroke="#000" stroke-width="2.2" stroke-linecap="round" />
<text transform="translate(88.1 1568.31) scale(1 1.04)" font-size="27.6" text-anchor="end" >1</text>
<line x1="118.5" y1="1631.42" x2="103.2" y2="1631.42" stroke="#000" stroke-width="2.2" stroke-linecap="round" />
<text transform="translate(88.1 1641.02) scale(1 1.04)" font-size="27.6" text-anchor="end" >2</text>
<line x1="118.5" y1="1704.13" x2="103.2" y2="1704.13" stroke="#000" stroke-width="2.2" stroke-linecap="round" />
<text transform="translate(88.1 1713.73) scale(1 1.04)" font-size="27.6" text-anchor="end" >3</text>
<line x1="118.5" y1="1776.84" x2="103.2" y2="1776.84" stroke="#000" stroke-width="2.2" stroke-linecap="round" />
<text transform="translate(88.1 1786.44) scale(1 1.04)" font-size="27.6" text-anchor="end" >4</text>
<line x1="118.5" y1="1849.55" x2="103.2" y2="1849.55" stroke="#000" stroke-width="2.2" stroke-linecap="round" />
<text transform="translate(88.1 1859.15) scale(1 1.04)" font-size="27.6" text-anchor="end" >5</text>
<text transform="translate(27.8 1744.9) rotate(-90) scale(1 1.04)" font-size="29.45" text-anchor="start" >Depth (cm)</text>
<text transform="translate(230.1 1380.5) scale(1 1.04)" font-size="29.45" text-anchor="start" >Density&#160;&#160;(ind. 10 cm<tspan dy="-11.5" font-size="28">-3</tspan><tspan dy="11.5" dx="1">)</tspan></text>
<text transform="translate(375.7 1826.5) scale(1 1.04)" font-size="40.5" text-anchor="start" >7915 m A3</text>
<text transform="translate(23.1 1405.7) scale(1 1.04)" font-size="40.7" text-anchor="start" >E</text>
<line x1="552.3" y1="1522.36" x2="546.85" y2="1522.36" stroke="#000" stroke-width="1.6" stroke-linecap="round" stroke-dasharray="7.6 7.6"/>
<rect x="505.95" y="1493.27" width="40.9" height="58.17" fill="#000" stroke="none" stroke-width="0" />
<rect x="526.6" y="1493.27" width="6" height="58.17" fill="#fff" stroke="none" stroke-width="0" />
<rect x="505.95" y="1493.27" width="40.9" height="58.17" fill="none" stroke="#000" stroke-width="1.7" stroke-linejoin="round"/>
<line x1="552.3" y1="1507.81" x2="552.3" y2="1536.9" stroke="#000" stroke-width="1.8" stroke-linecap="round" />
<line x1="199.3" y1="1595.07" x2="212.95" y2="1595.07" stroke="#000" stroke-width="1.6" stroke-linecap="round" stroke-dasharray="7.6 7.6"/>
<line x1="262.9" y1="1595.07" x2="244.85" y2="1595.07" stroke="#000" stroke-width="1.6" stroke-linecap="round" stroke-dasharray="7.6 7.6"/>
<rect x="212.95" y="1565.98" width="31.9" height="58.17" fill="#000" stroke="none" stroke-width="0" />
<rect x="224.7" y="1565.98" width="6" height="58.17" fill="#fff" stroke="none" stroke-width="0" />
<rect x="212.95" y="1565.98" width="31.9" height="58.17" fill="none" stroke="#000" stroke-width="1.7" stroke-linejoin="round"/>
<line x1="199.3" y1="1580.52" x2="199.3" y2="1609.61" stroke="#000" stroke-width="1.8" stroke-linecap="round" />
<line x1="262.9" y1="1580.52" x2="262.9" y2="1609.61" stroke="#000" stroke-width="1.8" stroke-linecap="round" />
<line x1="145.1" y1="1667.78" x2="147.35" y2="1667.78" stroke="#000" stroke-width="1.6" stroke-linecap="round" stroke-dasharray="7.6 7.6"/>
<line x1="171.3" y1="1667.78" x2="161.35" y2="1667.78" stroke="#000" stroke-width="1.6" stroke-linecap="round" stroke-dasharray="7.6 7.6"/>
<rect x="147.35" y="1638.69" width="14" height="58.17" fill="#000" stroke="none" stroke-width="0" />
<rect x="148.3" y="1638.69" width="6" height="58.17" fill="#fff" stroke="none" stroke-width="0" />
<rect x="147.35" y="1638.69" width="14" height="58.17" fill="none" stroke="#000" stroke-width="1.7" stroke-linejoin="round"/>
<line x1="145.1" y1="1653.23" x2="145.1" y2="1682.32" stroke="#000" stroke-width="1.8" stroke-linecap="round" />
<line x1="171.3" y1="1653.23" x2="171.3" y2="1682.32" stroke="#000" stroke-width="1.8" stroke-linecap="round" />
<line x1="136" y1="1740.48" x2="137.25" y2="1740.48" stroke="#000" stroke-width="1.6" stroke-linecap="round" stroke-dasharray="7.6 7.6"/>
<line x1="149.8" y1="1740.48" x2="144.15" y2="1740.48" stroke="#000" stroke-width="1.6" stroke-linecap="round" stroke-dasharray="7.6 7.6"/>
<rect x="137.25" y="1711.4" width="6.9" height="58.17" fill="#000" stroke="none" stroke-width="0" />
<rect x="136.6" y="1711.4" width="6" height="58.17" fill="#fff" stroke="none" stroke-width="0" />
<rect x="137.25" y="1711.4" width="6.9" height="58.17" fill="none" stroke="#000" stroke-width="1.7" stroke-linejoin="round"/>
<line x1="136" y1="1725.94" x2="136" y2="1755.03" stroke="#000" stroke-width="1.8" stroke-linecap="round" />
<line x1="149.8" y1="1725.94" x2="149.8" y2="1755.03" stroke="#000" stroke-width="1.8" stroke-linecap="round" />
<line x1="140.9" y1="1813.19" x2="138.25" y2="1813.19" stroke="#000" stroke-width="1.6" stroke-linecap="round" stroke-dasharray="7.6 7.6"/>
<rect x="136.05" y="1784.11" width="2.2" height="58.17" fill="#000" stroke="none" stroke-width="0" />
<rect x="134" y="1784.11" width="6" height="58.17" fill="#fff" stroke="none" stroke-width="0" />
<rect x="136.05" y="1784.11" width="2.2" height="58.17" fill="none" stroke="#000" stroke-width="1.7" stroke-linejoin="round"/>
<line x1="140.9" y1="1798.65" x2="140.9" y2="1827.74" stroke="#000" stroke-width="1.8" stroke-linecap="round" />
<circle cx="372.5" cy="1522.5" r="5.6" fill="none" stroke="#000" stroke-width="1.6"/>
<line x1="816" y1="1486" x2="1273" y2="1486" stroke="#000" stroke-width="2.2" stroke-linecap="round" />
<line x1="816" y1="1486" x2="816" y2="1471.3" stroke="#000" stroke-width="2.2" stroke-linecap="round" />
<text transform="translate(816 1449.9) scale(1 1.04)" font-size="27.6" text-anchor="middle" >0.00</text>
<line x1="907.4" y1="1486" x2="907.4" y2="1471.3" stroke="#000" stroke-width="2.2" stroke-linecap="round" />
<text transform="translate(907.4 1449.9) scale(1 1.04)" font-size="27.6" text-anchor="middle" >0.05</text>
<line x1="998.8" y1="1486" x2="998.8" y2="1471.3" stroke="#000" stroke-width="2.2" stroke-linecap="round" />
<text transform="translate(998.8 1449.9) scale(1 1.04)" font-size="27.6" text-anchor="middle" >0.10</text>
<line x1="1090.2" y1="1486" x2="1090.2" y2="1471.3" stroke="#000" stroke-width="2.2" stroke-linecap="round" />
<text transform="translate(1090.2 1449.9) scale(1 1.04)" font-size="27.6" text-anchor="middle" >0.15</text>
<line x1="1181.6" y1="1486" x2="1181.6" y2="1471.3" stroke="#000" stroke-width="2.2" stroke-linecap="round" />
<text transform="translate(1181.6 1449.9) scale(1 1.04)" font-size="27.6" text-anchor="middle" >0.20</text>
<line x1="1273" y1="1486" x2="1273" y2="1471.3" stroke="#000" stroke-width="2.2" stroke-linecap="round" />
<text transform="translate(1273 1449.9) scale(1 1.04)" font-size="27.6" text-anchor="middle" >0.25</text>
<line x1="806.4" y1="1864.2" x2="1254.6" y2="1864.2" stroke="#000" stroke-width="2.2" stroke-linecap="round" />
<line x1="806.4" y1="1864.2" x2="806.4" y2="1879.2" stroke="#000" stroke-width="2.2" stroke-linecap="round" />
<text transform="translate(806.4 1918.6) scale(1 1.04)" font-size="27.6" text-anchor="middle" >0</text>
<line x1="896.04" y1="1864.2" x2="896.04" y2="1879.2" stroke="#000" stroke-width="2.2" stroke-linecap="round" />
<text transform="translate(896.04 1918.6) scale(1 1.04)" font-size="27.6" text-anchor="middle" >50</text>
<line x1="985.68" y1="1864.2" x2="985.68" y2="1879.2" stroke="#000" stroke-width="2.2" stroke-linecap="round" />
<text transform="translate(985.68 1918.6) scale(1 1.04)" font-size="27.6" text-anchor="middle" >100</text>
<line x1="1075.32" y1="1864.2" x2="1075.32" y2="1879.2" stroke="#000" stroke-width="2.2" stroke-linecap="round" />
<text transform="translate(1075.32 1918.6) scale(1 1.04)" font-size="27.6" text-anchor="middle" >150</text>
<line x1="1164.96" y1="1864.2" x2="1164.96" y2="1879.2" stroke="#000" stroke-width="2.2" stroke-linecap="round" />
<text transform="translate(1164.96 1918.6) scale(1 1.04)" font-size="27.6" text-anchor="middle" >200</text>
<line x1="1254.6" y1="1864.2" x2="1254.6" y2="1879.2" stroke="#000" stroke-width="2.2" stroke-linecap="round" />
<text transform="translate(1254.6 1918.6) scale(1 1.04)" font-size="27.6" text-anchor="middle" >250</text>
<line x1="789" y1="1486" x2="789" y2="1849.55" stroke="#000" stroke-width="2.2" stroke-linecap="round" />
<line x1="789" y1="1486" x2="773.7" y2="1486" stroke="#000" stroke-width="2.2" stroke-linecap="round" />
<text transform="translate(759.2 1495.6) scale(1 1.04)" font-size="27.6" text-anchor="end" >0</text>
<line x1="789" y1="1558.71" x2="773.7" y2="1558.71" stroke="#000" stroke-width="2.2" stroke-linecap="round" />
<text transform="translate(759.2 1568.31) scale(1 1.04)" font-size="27.6" text-anchor="end" >1</text>
<line x1="789" y1="1631.42" x2="773.7" y2="1631.42" stroke="#000" stroke-width="2.2" stroke-linecap="round" />
<text transform="translate(759.2 1641.02) scale(1 1.04)" font-size="27.6" text-anchor="end" >2</text>
<line x1="789" y1="1704.13" x2="773.7" y2="1704.13" stroke="#000" stroke-width="2.2" stroke-linecap="round" />
<text transform="translate(759.2 1713.73) scale(1 1.04)" font-size="27.6" text-anchor="end" >3</text>
<line x1="789" y1="1776.84" x2="773.7" y2="1776.84" stroke="#000" stroke-width="2.2" stroke-linecap="round" />
<text transform="translate(759.2 1786.44) scale(1 1.04)" font-size="27.6" text-anchor="end" >4</text>
<line x1="789" y1="1849.55" x2="773.7" y2="1849.55" stroke="#000" stroke-width="2.2" stroke-linecap="round" />
<text transform="translate(759.2 1859.15) scale(1 1.04)" font-size="27.6" text-anchor="end" >5</text>
<text transform="translate(691.5 1754.3) rotate(-90) scale(1 1.04)" font-size="29.45" text-anchor="start" >Depth (cm)</text>
<text transform="translate(908.2 1365.2) scale(1 1.04)" font-size="29.45" text-anchor="start" >Oxygen consumption</text>
<text transform="translate(942.3 1401.3) scale(1 1.04)" font-size="29.45" text-anchor="start" >(µmol cm<tspan dy="-11.5" font-size="28">-3</tspan><tspan dy="11.5" dx="2"> d</tspan><tspan dy="-11.5" font-size="28">-1</tspan><tspan dy="11.5" dx="3">)</tspan></text>
<text transform="translate(964.8 1951.7) scale(1 1.04)" font-size="29.45" text-anchor="start" >O<tspan dy="6" font-size="29">2</tspan><tspan dy="-6"> (µmol L</tspan><tspan dy="-11.5" font-size="28">-1</tspan><tspan dy="11.5" dx="2">)</tspan></text>
<text transform="translate(1030.8 1826.5) scale(1 1.04)" font-size="40.5" text-anchor="start" >7915 m&#160;&#160;A3</text>
<text transform="translate(700.7 1405.7) scale(1 1.04)" font-size="40.7" text-anchor="start" >F</text>
<rect x="816" y="1497.9" width="260.8" height="57.6" fill="none" stroke="#0000ff" stroke-width="2" stroke-linejoin="round"/>
<rect x="816" y="1567.65" width="26.2" height="57.6" fill="none" stroke="#0000ff" stroke-width="2" stroke-linejoin="round"/>
<rect x="816" y="1637.4" width="16.6" height="57.6" fill="none" stroke="#0000ff" stroke-width="2" stroke-linejoin="round"/>
<rect x="816" y="1707.15" width="0.3" height="57.6" fill="none" stroke="#0000ff" stroke-width="2" stroke-linejoin="round"/>
<rect x="816" y="1776.9" width="0.3" height="57.6" fill="none" stroke="#0000ff" stroke-width="2" stroke-linejoin="round"/>
<rect x="814.6" y="1499.8" width="2.7" height="54.8" fill="#fff"/>
<rect x="814.6" y="1568.2" width="2.7" height="54.8" fill="#fff"/>
<rect x="814.6" y="1636.6" width="2.7" height="54.8" fill="#fff"/>
<rect x="814.6" y="1705" width="2.7" height="54.8" fill="#fff"/>
<rect x="814.6" y="1773.4" width="2.7" height="54.8" fill="#fff"/>
<rect x="817.3" y="1501" width="65.7" height="52.4" fill="#000" fill-opacity="0.7" stroke="#fff" stroke-width="3" paint-order="stroke"/>
<rect x="817.3" y="1569.4" width="20.2" height="52.4" fill="#000" fill-opacity="0.7" stroke="#fff" stroke-width="3" paint-order="stroke"/>
<rect x="817.3" y="1637.8" width="2.4" height="52.4" fill="#000" fill-opacity="0.7" stroke="#fff" stroke-width="3" paint-order="stroke"/>
<rect x="817.3" y="1706.2" width="0.3" height="52.4" fill="#000" fill-opacity="0.7" stroke="#fff" stroke-width="3" paint-order="stroke"/>
<rect x="817.3" y="1774.6" width="0.3" height="52.4" fill="#000" fill-opacity="0.7" stroke="#fff" stroke-width="3" paint-order="stroke"/>
<line x1="878.2" y1="1516.45" x2="878.2" y2="1528.26" stroke="#000" stroke-width="3" stroke-linecap="round" />
<line x1="889.7" y1="1516.45" x2="889.7" y2="1528.26" stroke="#000" stroke-width="3" stroke-linecap="round" />
<line x1="878.2" y1="1522.36" x2="889.7" y2="1522.36" stroke="#000" stroke-width="3" stroke-linecap="round" />
<line x1="835.5" y1="1589.16" x2="835.5" y2="1600.97" stroke="#000" stroke-width="3" stroke-linecap="round" />
<line x1="841.2" y1="1589.16" x2="841.2" y2="1600.97" stroke="#000" stroke-width="3" stroke-linecap="round" />
<line x1="835.5" y1="1595.07" x2="841.2" y2="1595.07" stroke="#000" stroke-width="3" stroke-linecap="round" />
<line x1="821.2" y1="1661.88" x2="821.2" y2="1673.68" stroke="#000" stroke-width="3" stroke-linecap="round" />
<line x1="821.2" y1="1661.88" x2="821.2" y2="1673.68" stroke="#000" stroke-width="3" stroke-linecap="round" />
<line x1="821.2" y1="1667.78" x2="821.2" y2="1667.78" stroke="#000" stroke-width="3" stroke-linecap="round" />
<line x1="817.2" y1="1734.58" x2="817.2" y2="1746.38" stroke="#000" stroke-width="3" stroke-linecap="round" />
<line x1="817.2" y1="1734.58" x2="817.2" y2="1746.38" stroke="#000" stroke-width="3" stroke-linecap="round" />
<line x1="817.2" y1="1740.48" x2="817.2" y2="1740.48" stroke="#000" stroke-width="3" stroke-linecap="round" />
<line x1="817.2" y1="1807.29" x2="817.2" y2="1819.1" stroke="#000" stroke-width="3" stroke-linecap="round" />
<line x1="817.2" y1="1807.29" x2="817.2" y2="1819.1" stroke="#000" stroke-width="3" stroke-linecap="round" />
<line x1="817.2" y1="1813.19" x2="817.2" y2="1813.19" stroke="#000" stroke-width="3" stroke-linecap="round" />
<path d="M1098.6 1486h0M1091.68 1487.1h0M1088.28 1488.2h0M1084.77 1489.3h0M1079.29 1490.4h0M1076.46 1491.5h0M1072.68 1492.6h0M1066.69 1493.7h0M1066.62 1494.8h0M1062.41 1495.9h0M1057.18 1497h0M1054.23 1498.1h0M1051.57 1499.2h0M1046.95 1500.3h0M1043.15 1501.4h0M1037.33 1502.5h0M1035.34 1503.6h0M1030.24 1504.7h0M1026.36 1505.8h0M1020.43 1506.9h0M1021.18 1508h0M1016.05 1509.1h0M1012.35 1510.2h0M1012.67 1511.3h0M1007.37 1512.4h0M1003.27 1513.5h0M1002.31 1514.6h0M997.09 1515.7h0M998.21 1516.8h0M993.02 1517.9h0M989.57 1519h0M989.03 1520.1h0M982.65 1521.2h0M982.73 1522.3h0M976.67 1523.4h0M975.91 1524.5h0M972.71 1525.6h0M973.79 1526.7h0M971.88 1527.8h0M966.92 1528.9h0M966.27 1530h0M962.8 1531.1h0M961.66 1532.2h0M957.85 1533.3h0M954.5 1534.4h0M952.27 1535.5h0M953 1536.6h0M953.33 1537.7h0M948.69 1538.8h0M945.63 1539.9h0M946.82 1541h0M942.73 1542.1h0M940.72 1543.2h0M939.16 1544.3h0M936.99 1545.4h0M935.15 1546.5h0M932.12 1547.6h0M933.12 1548.7h0M930.84 1549.8h0M931.03 1550.9h0M927.5 1552h0M923.99 1553.1h0M924.8 1554.2h0M925.55 1555.3h0M921.21 1556.4h0M918.9 1557.5h0M916.83 1558.6h0M915.32 1559.7h0M914.6 1560.8h0M911.74 1561.9h0M913.51 1563h0M909.47 1564.1h0M908.27 1565.2h0M908.29 1566.3h0M906.66 1567.4h0M902.67 1568.5h0M901.59 1569.6h0M900.34 1570.7h0M897.39 1571.8h0M893.64 1572.9h0M895.21 1574h0M894.04 1575.1h0M892.02 1576.2h0M888.94 1577.3h0M888.61 1578.4h0M886.85 1579.5h0M886.02 1580.6h0M886.9 1581.7h0M886 1582.8h0M883.68 1583.9h0M882.3 1585h0M881.21 1586.1h0M879.04 1587.2h0M877.68 1588.3h0M875.63 1589.4h0M875.16 1590.5h0M876.9 1591.6h0M873.83 1592.7h0M871 1593.8h0M869.59 1594.9h0M867.85 1596h0M868.24 1597.1h0M867.05 1598.2h0M863.45 1599.3h0M864.9 1600.4h0M862.01 1601.5h0M864.03 1602.6h0M860.83 1603.7h0M862.18 1604.8h0M857.57 1605.9h0M856.74 1607h0M856.6 1608.1h0M856.75 1609.2h0M854.91 1610.3h0M851 1611.4h0M852.25 1612.5h0M850.99 1613.6h0M849.27 1614.7h0M847.94 1615.8h0M850.81 1616.9h0M846.41 1618h0M844.7 1619.1h0M846.1 1620.2h0M844.32 1621.3h0M843.06 1622.4h0M843.53 1623.5h0M842.21 1624.6h0M841.22 1625.7h0M841.46 1626.8h0M839.7 1627.9h0M837.63 1629h0M837.44 1630.1h0M836.61 1631.2h0M837.21 1632.3h0M834.6 1633.4h0M832.82 1634.5h0M835.33 1635.6h0M832.5 1636.7h0M830.98 1637.8h0M834.17 1638.9h0M831.9 1640h0M833.3 1641.1h0M831.1 1642.2h0M829.59 1643.3h0M828.8 1644.4h0M829.36 1645.5h0M829.12 1646.6h0M827.6 1647.7h0M827.81 1648.8h0M825.12 1649.9h0M826.89 1651h0M823.26 1652.1h0M824.99 1653.2h0M825.5 1654.3h0M825.16 1655.4h0M825.19 1656.5h0M819.03 1657.6h0M821.91 1658.7h0M821.93 1659.8h0M821 1660.9h0M817.45 1662h0M819.16 1663.1h0M821.06 1664.2h0M815.29 1665.3h0M818.04 1666.4h0M818.62 1667.5h0M815.23 1668.6h0M816.71 1669.7h0M813.37 1670.8h0M813 1671.9h0M812.18 1673h0M812.98 1674.1h0M811.76 1675.2h0M812.77 1676.3h0M809.21 1677.4h0M810.1 1678.5h0M811.46 1679.6h0M810.45 1680.7h0M807.09 1681.8h0M809.96 1682.9h0M807.88 1684h0M809.07 1685.1h0M808.81 1686.2h0M810.25 1687.3h0M808.49 1688.4h0M805.33 1689.5h0M806.11 1690.6h0M809.47 1691.7h0M807.89 1692.8h0M810.12 1693.9h0M808.74 1695h0M807.1 1696.1h0M810.06 1697.2h0M807.2 1698.3h0M805.5 1699.4h0M812.48 1700.5h0M806.59 1701.6h0M811.2 1702.7h0M812.26 1703.8h0M811.58 1704.9h0" stroke="#a0101e" stroke-width="5.6" stroke-linecap="round" fill="none"/>
<circle cx="872" cy="1583" r="2.8" fill="#a0101e"/>
<line x1="136.1" y1="2141.6" x2="584.12" y2="2141.6" stroke="#000" stroke-width="2.2" stroke-linecap="round" />
<line x1="136.1" y1="2141.6" x2="136.1" y2="2126.5" stroke="#000" stroke-width="2.2" stroke-linecap="round" />
<text transform="translate(136.1 2105.9) scale(1 1.04)" font-size="27.6" text-anchor="middle" >0</text>
<line x1="210.77" y1="2141.6" x2="210.77" y2="2126.5" stroke="#000" stroke-width="2.2" stroke-linecap="round" />
<text transform="translate(210.77 2105.9) scale(1 1.04)" font-size="27.6" text-anchor="middle" >100</text>
<line x1="285.44" y1="2141.6" x2="285.44" y2="2126.5" stroke="#000" stroke-width="2.2" stroke-linecap="round" />
<text transform="translate(285.44 2105.9) scale(1 1.04)" font-size="27.6" text-anchor="middle" >200</text>
<line x1="360.11" y1="2141.6" x2="360.11" y2="2126.5" stroke="#000" stroke-width="2.2" stroke-linecap="round" />
<text transform="translate(360.11 2105.9) scale(1 1.04)" font-size="27.6" text-anchor="middle" >300</text>
<line x1="434.78" y1="2141.6" x2="434.78" y2="2126.5" stroke="#000" stroke-width="2.2" stroke-linecap="round" />
<text transform="translate(434.78 2105.9) scale(1 1.04)" font-size="27.6" text-anchor="middle" >400</text>
<line x1="509.45" y1="2141.6" x2="509.45" y2="2126.5" stroke="#000" stroke-width="2.2" stroke-linecap="round" />
<text transform="translate(509.45 2105.9) scale(1 1.04)" font-size="27.6" text-anchor="middle" >500</text>
<line x1="584.12" y1="2141.6" x2="584.12" y2="2126.5" stroke="#000" stroke-width="2.2" stroke-linecap="round" />
<text transform="translate(584.12 2105.9) scale(1 1.04)" font-size="27.6" text-anchor="middle" >600</text>
<line x1="136.1" y1="2534.7" x2="584.12" y2="2534.7" stroke="#000" stroke-width="2.2" stroke-linecap="round" />
<line x1="136.1" y1="2534.7" x2="136.1" y2="2549.7" stroke="#000" stroke-width="2.2" stroke-linecap="round" />
<line x1="210.77" y1="2534.7" x2="210.77" y2="2549.7" stroke="#000" stroke-width="2.2" stroke-linecap="round" />
<line x1="285.44" y1="2534.7" x2="285.44" y2="2549.7" stroke="#000" stroke-width="2.2" stroke-linecap="round" />
<line x1="360.11" y1="2534.7" x2="360.11" y2="2549.7" stroke="#000" stroke-width="2.2" stroke-linecap="round" />
<line x1="434.78" y1="2534.7" x2="434.78" y2="2549.7" stroke="#000" stroke-width="2.2" stroke-linecap="round" />
<line x1="509.45" y1="2534.7" x2="509.45" y2="2549.7" stroke="#000" stroke-width="2.2" stroke-linecap="round" />
<line x1="584.12" y1="2534.7" x2="584.12" y2="2549.7" stroke="#000" stroke-width="2.2" stroke-linecap="round" />
<line x1="118.5" y1="2156.5" x2="118.5" y2="2520.05" stroke="#000" stroke-width="2.2" stroke-linecap="round" />
<line x1="118.5" y1="2156.5" x2="103.2" y2="2156.5" stroke="#000" stroke-width="2.2" stroke-linecap="round" />
<text transform="translate(88.1 2166.1) scale(1 1.04)" font-size="27.6" text-anchor="end" >0</text>
<line x1="118.5" y1="2229.21" x2="103.2" y2="2229.21" stroke="#000" stroke-width="2.2" stroke-linecap="round" />
<text transform="translate(88.1 2238.81) scale(1 1.04)" font-size="27.6" text-anchor="end" >1</text>
<line x1="118.5" y1="2301.92" x2="103.2" y2="2301.92" stroke="#000" stroke-width="2.2" stroke-linecap="round" />
<text transform="translate(88.1 2311.52) scale(1 1.04)" font-size="27.6" text-anchor="end" >2</text>
<line x1="118.5" y1="2374.63" x2="103.2" y2="2374.63" stroke="#000" stroke-width="2.2" stroke-linecap="round" />
<text transform="translate(88.1 2384.23) scale(1 1.04)" font-size="27.6" text-anchor="end" >3</text>
<line x1="118.5" y1="2447.34" x2="103.2" y2="2447.34" stroke="#000" stroke-width="2.2" stroke-linecap="round" />
<text transform="translate(88.1 2456.94) scale(1 1.04)" font-size="27.6" text-anchor="end" >4</text>
<line x1="118.5" y1="2520.05" x2="103.2" y2="2520.05" stroke="#000" stroke-width="2.2" stroke-linecap="round" />
<text transform="translate(88.1 2529.65) scale(1 1.04)" font-size="27.6" text-anchor="end" >5</text>
<text transform="translate(27.8 2417.6) rotate(-90) scale(1 1.04)" font-size="29.45" text-anchor="start" >Depth (cm)</text>
<text transform="translate(229.6 2051) scale(1 1.04)" font-size="29.45" text-anchor="start" >Density&#160;&#160;(ind. 10 cm<tspan dy="-11.5" font-size="28">-3</tspan><tspan dy="11.5" dx="1">)</tspan></text>
<text transform="translate(376 2497.6) scale(1 1.04)" font-size="40.5" text-anchor="start" >8085 m A4</text>
<text transform="translate(25 2081.5) scale(1 1.04)" font-size="40.7" text-anchor="start" >G</text>
<line x1="362.3" y1="2192.86" x2="389.35" y2="2192.86" stroke="#000" stroke-width="1.6" stroke-linecap="round" stroke-dasharray="7.6 7.6"/>
<line x1="431.8" y1="2192.86" x2="414.65" y2="2192.86" stroke="#000" stroke-width="1.6" stroke-linecap="round" stroke-dasharray="7.6 7.6"/>
<rect x="389.35" y="2163.77" width="25.3" height="58.17" fill="#000" stroke="none" stroke-width="0" />
<rect x="397.4" y="2163.77" width="6" height="58.17" fill="#fff" stroke="none" stroke-width="0" />
<rect x="389.35" y="2163.77" width="25.3" height="58.17" fill="none" stroke="#000" stroke-width="1.7" stroke-linejoin="round"/>
<line x1="362.3" y1="2178.31" x2="362.3" y2="2207.4" stroke="#000" stroke-width="1.8" stroke-linecap="round" />
<line x1="431.8" y1="2178.31" x2="431.8" y2="2207.4" stroke="#000" stroke-width="1.8" stroke-linecap="round" />
<line x1="247.9" y1="2265.57" x2="252.75" y2="2265.57" stroke="#000" stroke-width="1.6" stroke-linecap="round" stroke-dasharray="7.6 7.6"/>
<line x1="339.8" y1="2265.57" x2="299.05" y2="2265.57" stroke="#000" stroke-width="1.6" stroke-linecap="round" stroke-dasharray="7.6 7.6"/>
<rect x="252.75" y="2236.48" width="46.3" height="58.17" fill="#000" stroke="none" stroke-width="0" />
<rect x="269.4" y="2236.48" width="6" height="58.17" fill="#fff" stroke="none" stroke-width="0" />
<rect x="252.75" y="2236.48" width="46.3" height="58.17" fill="none" stroke="#000" stroke-width="1.7" stroke-linejoin="round"/>
<line x1="247.9" y1="2251.02" x2="247.9" y2="2280.11" stroke="#000" stroke-width="1.8" stroke-linecap="round" />
<line x1="339.8" y1="2251.02" x2="339.8" y2="2280.11" stroke="#000" stroke-width="1.8" stroke-linecap="round" />
<line x1="151.7" y1="2338.28" x2="173.35" y2="2338.28" stroke="#000" stroke-width="1.6" stroke-linecap="round" stroke-dasharray="7.6 7.6"/>
<line x1="233.7" y1="2338.28" x2="208.55" y2="2338.28" stroke="#000" stroke-width="1.6" stroke-linecap="round" stroke-dasharray="7.6 7.6"/>
<rect x="173.35" y="2309.19" width="35.2" height="58.17" fill="#000" stroke="none" stroke-width="0" />
<rect x="191" y="2309.19" width="6" height="58.17" fill="#fff" stroke="none" stroke-width="0" />
<rect x="173.35" y="2309.19" width="35.2" height="58.17" fill="none" stroke="#000" stroke-width="1.7" stroke-linejoin="round"/>
<line x1="151.7" y1="2323.73" x2="151.7" y2="2352.82" stroke="#000" stroke-width="1.8" stroke-linecap="round" />
<line x1="233.7" y1="2323.73" x2="233.7" y2="2352.82" stroke="#000" stroke-width="1.8" stroke-linecap="round" />
<line x1="140.5" y1="2410.99" x2="142.85" y2="2410.99" stroke="#000" stroke-width="1.6" stroke-linecap="round" stroke-dasharray="7.6 7.6"/>
<rect x="142.85" y="2381.9" width="12.4" height="58.17" fill="#000" stroke="none" stroke-width="0" />
<rect x="147.9" y="2381.9" width="6" height="58.17" fill="#fff" stroke="none" stroke-width="0" />
<rect x="142.85" y="2381.9" width="12.4" height="58.17" fill="none" stroke="#000" stroke-width="1.7" stroke-linejoin="round"/>
<line x1="140.5" y1="2396.44" x2="140.5" y2="2425.53" stroke="#000" stroke-width="1.8" stroke-linecap="round" />
<line x1="136" y1="2483.7" x2="137.35" y2="2483.7" stroke="#000" stroke-width="1.6" stroke-linecap="round" stroke-dasharray="7.6 7.6"/>
<rect x="137.35" y="2454.61" width="7.8" height="58.17" fill="#000" stroke="none" stroke-width="0" />
<rect x="138.5" y="2454.61" width="6" height="58.17" fill="#fff" stroke="none" stroke-width="0" />
<rect x="137.35" y="2454.61" width="7.8" height="58.17" fill="none" stroke="#000" stroke-width="1.7" stroke-linejoin="round"/>
<line x1="136" y1="2469.15" x2="136" y2="2498.24" stroke="#000" stroke-width="1.8" stroke-linecap="round" />
<circle cx="185.8" cy="2411.4" r="5.6" fill="none" stroke="#000" stroke-width="1.6"/>
<line x1="816" y1="2156.5" x2="1273" y2="2156.5" stroke="#000" stroke-width="2.2" stroke-linecap="round" />
<line x1="816" y1="2156.5" x2="816" y2="2141.8" stroke="#000" stroke-width="2.2" stroke-linecap="round" />
<text transform="translate(816 2120.4) scale(1 1.04)" font-size="27.6" text-anchor="middle" >0.00</text>
<line x1="907.4" y1="2156.5" x2="907.4" y2="2141.8" stroke="#000" stroke-width="2.2" stroke-linecap="round" />
<text transform="translate(907.4 2120.4) scale(1 1.04)" font-size="27.6" text-anchor="middle" >0.05</text>
<line x1="998.8" y1="2156.5" x2="998.8" y2="2141.8" stroke="#000" stroke-width="2.2" stroke-linecap="round" />
<text transform="translate(998.8 2120.4) scale(1 1.04)" font-size="27.6" text-anchor="middle" >0.10</text>
<line x1="1090.2" y1="2156.5" x2="1090.2" y2="2141.8" stroke="#000" stroke-width="2.2" stroke-linecap="round" />
<text transform="translate(1090.2 2120.4) scale(1 1.04)" font-size="27.6" text-anchor="middle" >0.15</text>
<line x1="1181.6" y1="2156.5" x2="1181.6" y2="2141.8" stroke="#000" stroke-width="2.2" stroke-linecap="round" />
<text transform="translate(1181.6 2120.4) scale(1 1.04)" font-size="27.6" text-anchor="middle" >0.20</text>
<line x1="1273" y1="2156.5" x2="1273" y2="2141.8" stroke="#000" stroke-width="2.2" stroke-linecap="round" />
<text transform="translate(1273 2120.4) scale(1 1.04)" font-size="27.6" text-anchor="middle" >0.25</text>
<line x1="806.4" y1="2534.7" x2="1254.6" y2="2534.7" stroke="#000" stroke-width="2.2" stroke-linecap="round" />
<line x1="806.4" y1="2534.7" x2="806.4" y2="2549.7" stroke="#000" stroke-width="2.2" stroke-linecap="round" />
<text transform="translate(806.4 2589.1) scale(1 1.04)" font-size="27.6" text-anchor="middle" >0</text>
<line x1="896.04" y1="2534.7" x2="896.04" y2="2549.7" stroke="#000" stroke-width="2.2" stroke-linecap="round" />
<text transform="translate(896.04 2589.1) scale(1 1.04)" font-size="27.6" text-anchor="middle" >50</text>
<line x1="985.68" y1="2534.7" x2="985.68" y2="2549.7" stroke="#000" stroke-width="2.2" stroke-linecap="round" />
<text transform="translate(985.68 2589.1) scale(1 1.04)" font-size="27.6" text-anchor="middle" >100</text>
<line x1="1075.32" y1="2534.7" x2="1075.32" y2="2549.7" stroke="#000" stroke-width="2.2" stroke-linecap="round" />
<text transform="translate(1075.32 2589.1) scale(1 1.04)" font-size="27.6" text-anchor="middle" >150</text>
<line x1="1164.96" y1="2534.7" x2="1164.96" y2="2549.7" stroke="#000" stroke-width="2.2" stroke-linecap="round" />
<text transform="translate(1164.96 2589.1) scale(1 1.04)" font-size="27.6" text-anchor="middle" >200</text>
<line x1="1254.6" y1="2534.7" x2="1254.6" y2="2549.7" stroke="#000" stroke-width="2.2" stroke-linecap="round" />
<text transform="translate(1254.6 2589.1) scale(1 1.04)" font-size="27.6" text-anchor="middle" >250</text>
<line x1="789" y1="2156.5" x2="789" y2="2520.05" stroke="#000" stroke-width="2.2" stroke-linecap="round" />
<line x1="789" y1="2156.5" x2="773.7" y2="2156.5" stroke="#000" stroke-width="2.2" stroke-linecap="round" />
<text transform="translate(759.2 2166.1) scale(1 1.04)" font-size="27.6" text-anchor="end" >0</text>
<line x1="789" y1="2229.21" x2="773.7" y2="2229.21" stroke="#000" stroke-width="2.2" stroke-linecap="round" />
<text transform="translate(759.2 2238.81) scale(1 1.04)" font-size="27.6" text-anchor="end" >1</text>
<line x1="789" y1="2301.92" x2="773.7" y2="2301.92" stroke="#000" stroke-width="2.2" stroke-linecap="round" />
<text transform="translate(759.2 2311.52) scale(1 1.04)" font-size="27.6" text-anchor="end" >2</text>
<line x1="789" y1="2374.63" x2="773.7" y2="2374.63" stroke="#000" stroke-width="2.2" stroke-linecap="round" />
<text transform="translate(759.2 2384.23) scale(1 1.04)" font-size="27.6" text-anchor="end" >3</text>
<line x1="789" y1="2447.34" x2="773.7" y2="2447.34" stroke="#000" stroke-width="2.2" stroke-linecap="round" />
<text transform="translate(759.2 2456.94) scale(1 1.04)" font-size="27.6" text-anchor="end" >4</text>
<line x1="789" y1="2520.05" x2="773.7" y2="2520.05" stroke="#000" stroke-width="2.2" stroke-linecap="round" />
<text transform="translate(759.2 2529.65) scale(1 1.04)" font-size="27.6" text-anchor="end" >5</text>
<text transform="translate(690.6 2421.2) rotate(-90) scale(1 1.04)" font-size="29.45" text-anchor="start" >Depth (cm)</text>
<text transform="translate(907.7 2035.7) scale(1 1.04)" font-size="29.45" text-anchor="start" >Oxygen consumption</text>
<text transform="translate(942.3 2071.8) scale(1 1.04)" font-size="29.45" text-anchor="start" >(µmol cm<tspan dy="-11.5" font-size="28">-3</tspan><tspan dy="11.5" dx="2"> d</tspan><tspan dy="-11.5" font-size="28">-1</tspan><tspan dy="11.5" dx="3">)</tspan></text>
<text transform="translate(971.4 2625.1) scale(1 1.04)" font-size="29.45" text-anchor="start" >O<tspan dy="6" font-size="29">2</tspan><tspan dy="-6"> (µmol L</tspan><tspan dy="-11.5" font-size="28">-1</tspan><tspan dy="11.5" dx="2">)</tspan></text>
<text transform="translate(1031.6 2497.2) scale(1 1.04)" font-size="40.5" text-anchor="start" >8085 m&#160;&#160;A4</text>
<text transform="translate(699.1 2081.7) scale(1 1.04)" font-size="40.7" text-anchor="start" >H</text>
<rect x="816" y="2168.4" width="280" height="57.6" fill="none" stroke="#0000ff" stroke-width="2" stroke-linejoin="round"/>
<rect x="816" y="2238.15" width="15" height="57.6" fill="none" stroke="#0000ff" stroke-width="2" stroke-linejoin="round"/>
<rect x="816" y="2307.9" width="16.3" height="57.6" fill="none" stroke="#0000ff" stroke-width="2" stroke-linejoin="round"/>
<rect x="816" y="2377.65" width="5.8" height="57.6" fill="none" stroke="#0000ff" stroke-width="2" stroke-linejoin="round"/>
<rect x="816" y="2447.4" width="0.3" height="57.6" fill="none" stroke="#0000ff" stroke-width="2" stroke-linejoin="round"/>
<rect x="814.6" y="2170.3" width="2.7" height="54.8" fill="#fff"/>
<rect x="814.6" y="2238.7" width="2.7" height="54.8" fill="#fff"/>
<rect x="814.6" y="2307.1" width="2.7" height="54.8" fill="#fff"/>
<rect x="814.6" y="2375.5" width="2.7" height="54.8" fill="#fff"/>
<rect x="814.6" y="2443.9" width="2.7" height="54.8" fill="#fff"/>
<rect x="817.3" y="2171.5" width="48.3" height="52.4" fill="#000" fill-opacity="0.7" stroke="#fff" stroke-width="3" paint-order="stroke"/>
<rect x="817.3" y="2239.9" width="26.6" height="52.4" fill="#000" fill-opacity="0.7" stroke="#fff" stroke-width="3" paint-order="stroke"/>
<rect x="817.3" y="2308.3" width="8.1" height="52.4" fill="#000" fill-opacity="0.7" stroke="#fff" stroke-width="3" paint-order="stroke"/>
<rect x="817.3" y="2376.7" width="0.7" height="52.4" fill="#000" fill-opacity="0.7" stroke="#fff" stroke-width="3" paint-order="stroke"/>
<rect x="817.3" y="2445.1" width="0.3" height="52.4" fill="#000" fill-opacity="0.7" stroke="#fff" stroke-width="3" paint-order="stroke"/>
<line x1="863.6" y1="2186.95" x2="863.6" y2="2198.76" stroke="#000" stroke-width="3" stroke-linecap="round" />
<line x1="870.5" y1="2186.95" x2="870.5" y2="2198.76" stroke="#000" stroke-width="3" stroke-linecap="round" />
<line x1="863.6" y1="2192.86" x2="870.5" y2="2192.86" stroke="#000" stroke-width="3" stroke-linecap="round" />
<line x1="839.5" y1="2259.66" x2="839.5" y2="2271.47" stroke="#000" stroke-width="3" stroke-linecap="round" />
<line x1="851.3" y1="2259.66" x2="851.3" y2="2271.47" stroke="#000" stroke-width="3" stroke-linecap="round" />
<line x1="839.5" y1="2265.57" x2="851.3" y2="2265.57" stroke="#000" stroke-width="3" stroke-linecap="round" />
<line x1="825.5" y1="2332.38" x2="825.5" y2="2344.18" stroke="#000" stroke-width="3" stroke-linecap="round" />
<line x1="829.1" y1="2332.38" x2="829.1" y2="2344.18" stroke="#000" stroke-width="3" stroke-linecap="round" />
<line x1="825.5" y1="2338.28" x2="829.1" y2="2338.28" stroke="#000" stroke-width="3" stroke-linecap="round" />
<line x1="819" y1="2405.09" x2="819" y2="2416.89" stroke="#000" stroke-width="3" stroke-linecap="round" />
<line x1="821.6" y1="2405.09" x2="821.6" y2="2416.89" stroke="#000" stroke-width="3" stroke-linecap="round" />
<line x1="819" y1="2410.99" x2="821.6" y2="2410.99" stroke="#000" stroke-width="3" stroke-linecap="round" />
<line x1="817" y1="2477.8" x2="817" y2="2489.6" stroke="#000" stroke-width="3" stroke-linecap="round" />
<line x1="817" y1="2477.8" x2="817" y2="2489.6" stroke="#000" stroke-width="3" stroke-linecap="round" />
<line x1="817" y1="2483.7" x2="817" y2="2483.7" stroke="#000" stroke-width="3" stroke-linecap="round" />
<path d="M1091.3 2156.5h0M1087.79 2157.3h0M1083.99 2158.1h0M1081.38 2158.9h0M1077.93 2159.7h0M1074.67 2160.5h0M1070.9 2161.3h0M1068.4 2162.1h0M1065.49 2162.9h0M1062.23 2163.7h0M1060.03 2164.5h0M1057.79 2165.3h0M1054.07 2166.1h0M1051.51 2166.9h0M1049.4 2167.7h0M1045.82 2168.5h0M1043.77 2169.3h0M1039.62 2170.1h0M1037.43 2170.9h0M1035.67 2171.7h0M1032.7 2172.5h0M1029.76 2173.3h0M1027.76 2174.1h0M1024.94 2174.9h0M1022.54 2175.7h0M1019.58 2176.5h0M1017.5 2177.3h0M1015.18 2178.1h0M1012.33 2178.9h0M1009.03 2179.7h0M1007.95 2180.5h0M1007.24 2181.3h0M1001.99 2182.1h0M1000.92 2182.9h0M999.24 2183.7h0M997.48 2184.5h0M995.96 2185.3h0M993.9 2186.1h0M992.09 2186.9h0M990.19 2187.7h0M987.04 2188.5h0M985.51 2189.3h0M983.37 2190.1h0M982.09 2190.9h0M979.8 2191.7h0M977.68 2192.5h0M977.62 2193.3h0M974.61 2194.1h0M972.56 2194.9h0M971.66 2195.7h0M968.66 2196.5h0M967.28 2197.3h0M965.35 2198.1h0M962.79 2198.9h0M960.58 2199.7h0M960.36 2200.5h0M958.25 2201.3h0M956.53 2202.1h0M955.7 2202.9h0M953.04 2203.7h0M952.97 2204.5h0M949.32 2205.3h0M947.07 2206.1h0M947.02 2206.9h0M945.81 2207.7h0M944.98 2208.5h0M942.1 2209.3h0M940.56 2210.1h0M939.05 2210.9h0M938.97 2211.7h0M934.81 2212.5h0M934.52 2213.3h0M932.79 2214.1h0M930.8 2214.9h0M929.78 2215.7h0M928.74 2216.5h0M926.87 2217.3h0M926.14 2218.1h0M925.35 2218.9h0M924.29 2219.7h0M922.54 2220.5h0M921.72 2221.3h0M921.06 2222.1h0M920.74 2222.9h0M919.57 2223.7h0M919.45 2224.5h0M918.28 2225.3h0M916.25 2226.1h0M917.01 2226.9h0M915.21 2227.7h0M915.12 2228.5h0M914 2229.3h0M913.75 2230.1h0M912.43 2230.9h0M911.69 2231.7h0M909.81 2232.5h0M910.82 2233.3h0M909.22 2234.1h0M908.16 2234.9h0M908.37 2235.7h0M907.14 2236.5h0M906.14 2237.3h0M905.49 2238.1h0M904.44 2238.9h0M902.96 2239.7h0M902.04 2240.5h0M902.55 2241.3h0M901.83 2242.1h0M900.72 2242.9h0M899.79 2243.7h0M899.38 2244.5h0M898.69 2245.3h0M897.45 2246.1h0M897 2246.9h0M896.13 2247.7h0M894.48 2248.5h0M894.49 2249.3h0M892.59 2250.1h0M891.05 2250.9h0M892.01 2251.7h0M890.56 2252.5h0M891.16 2253.3h0M888.45 2254.1h0M888.96 2254.9h0M887.45 2255.7h0M886.96 2256.5h0M885.34 2257.3h0M886.63 2258.1h0M884.23 2258.9h0M884.82 2259.7h0M882.75 2260.5h0M881.27 2261.3h0M880.7 2262.1h0M881.17 2262.9h0M879.23 2263.7h0M878.83 2264.5h0M878.84 2265.3h0M877.89 2266.1h0M875.88 2266.9h0M875.6 2267.7h0M876.02 2268.5h0M874.08 2269.3h0M874.33 2270.1h0M873.23 2270.9h0M871.7 2271.7h0M871.98 2272.5h0M870.78 2273.3h0M870.53 2274.1h0M869.28 2274.9h0M869.41 2275.7h0M868.23 2276.5h0M868.03 2277.3h0M866.03 2278.1h0M865.77 2278.9h0M865.69 2279.7h0M864.97 2280.5h0M864.02 2281.3h0M863.12 2282.1h0M861.35 2282.9h0M861.21 2283.7h0M860.48 2284.5h0M859.38 2285.3h0M858.79 2286.1h0M857.28 2286.9h0M857.23 2287.7h0M855.87 2288.5h0M854.87 2289.3h0M853.91 2290.1h0M854.95 2290.9h0M853.09 2291.7h0M852.75 2292.5h0M852 2293.3h0M853.75 2294.1h0M853.24 2294.9h0M851.17 2295.7h0M850.08 2296.5h0M850.18 2297.3h0M849.66 2298.1h0M849.09 2298.9h0M848.89 2299.7h0M847.29 2300.5h0M847.07 2301.3h0M846.62 2302.1h0M845.88 2302.9h0M845.21 2303.7h0M844.01 2304.5h0M843.64 2305.3h0M843.57 2306.1h0M841.76 2306.9h0M842.55 2307.7h0M841.15 2308.5h0M841.43 2309.3h0M839.25 2310.1h0M840.06 2310.9h0M838.95 2311.7h0M839.44 2312.5h0M838.25 2313.3h0M837.23 2314.1h0M837.88 2314.9h0M836.4 2315.7h0M835.73 2316.5h0M835.34 2317.3h0M834.93 2318.1h0M834.5 2318.9h0M834.07 2319.7h0M834.54 2320.5h0M834.12 2321.3h0M833.8 2322.1h0M833.75 2322.9h0M832.47 2323.7h0M831.61 2324.5h0M830.45 2325.3h0M830.48 2326.1h0M830.31 2326.9h0M830.66 2327.7h0M829.06 2328.5h0M830 2329.3h0M829.59 2330.1h0M828.13 2330.9h0M827.72 2331.7h0M827.61 2332.5h0M826.8 2333.3h0M826.29 2334.1h0M826.3 2334.9h0M826.61 2335.7h0M824.64 2336.5h0M826.1 2337.3h0M826.32 2338.1h0M825.74 2338.9h0M825.63 2339.7h0M823.4 2340.5h0M823.29 2341.3h0M824.54 2342.1h0M823.49 2342.9h0M823.71 2343.7h0M822.79 2344.5h0M822.78 2345.3h0M821.57 2346.1h0M821.63 2346.9h0M822.31 2347.7h0M821.66 2348.5h0M821.34 2349.3h0M821.68 2350.1h0M820.5 2350.9h0M819.79 2351.7h0M820.09 2352.5h0M820.23 2353.3h0M821.1 2354.1h0M819.4 2354.9h0M820.2 2355.7h0M819.89 2356.5h0M819.84 2357.3h0M820.03 2358.1h0M818.95 2358.9h0M819.4 2359.7h0M818 2360.5h0M819.07 2361.3h0M818.48 2362.1h0M817.44 2362.9h0M816.6 2363.7h0M817.72 2364.5h0M817.54 2365.3h0M818.85 2366.1h0M818.74 2366.9h0M816.67 2367.7h0M817.76 2368.5h0M816.98 2369.3h0M816.86 2370.1h0M816.07 2370.9h0M816.58 2371.7h0M816.87 2372.5h0M816.16 2373.3h0M816.83 2374.1h0M816.38 2374.9h0M817.24 2375.7h0M816.53 2376.5h0M816.2 2377.3h0M815.87 2378.1h0M815.4 2378.9h0M816.06 2379.7h0M814.99 2380.5h0M815.62 2381.3h0M814.99 2382.1h0M814.95 2382.9h0M815.89 2383.7h0M814.95 2384.5h0M814.8 2385.3h0M813.92 2386.1h0M813.98 2386.9h0M813.89 2387.7h0M813.12 2388.5h0M812.79 2389.3h0M813.29 2390.1h0M813.71 2390.9h0M812.02 2391.7h0M812.6 2392.5h0M811.9 2393.3h0M812.4 2394.1h0M812.13 2394.9h0M810.98 2395.7h0M810.84 2396.5h0M811.64 2397.3h0M811.28 2398.1h0M811.21 2398.9h0M811.19 2399.7h0M811.04 2400.5h0M811.84 2401.3h0M810.56 2402.1h0M810.19 2402.9h0M809.82 2403.7h0M810.8 2404.5h0M810.31 2405.3h0M809.15 2406.1h0M808.75 2406.9h0M808.59 2407.7h0M809.62 2408.5h0M809.57 2409.3h0M808.95 2410.1h0M807.6 2410.9h0M807.84 2411.7h0M808.79 2412.5h0M808.49 2413.3h0M808.49 2414.1h0M808.26 2414.9h0M808.03 2415.7h0M808.46 2416.5h0M808.12 2417.3h0M807.16 2418.1h0M807.8 2418.9h0M808.25 2419.7h0M807.79 2420.5h0M808.38 2421.3h0M808.95 2422.1h0M807.06 2422.9h0M809.76 2423.7h0M807.5 2424.5h0M807.64 2425.3h0M808.04 2426.1h0M806.8 2426.9h0M807.63 2427.7h0M807.53 2428.5h0M807.13 2429.3h0M807.54 2430.1h0M806.88 2430.9h0M807.21 2431.7h0M806.13 2432.5h0M807.32 2433.3h0M807.43 2434.1h0M807.86 2434.9h0M806.26 2435.7h0M806.98 2436.5h0M806.39 2437.3h0M807.06 2438.1h0M805.54 2438.9h0M806.05 2439.7h0M806.35 2440.5h0M807.32 2441.3h0M805.32 2442.1h0M806.73 2442.9h0M806.24 2443.7h0M806.46 2444.5h0M805.89 2445.3h0M805.29 2446.1h0M806.93 2446.9h0M805.5 2447.7h0M806.21 2448.5h0M805.47 2449.3h0M806.23 2450.1h0M806.76 2450.9h0M806.23 2451.7h0M805.64 2452.5h0M805.92 2453.3h0M806.2 2454.1h0M805.1 2454.9h0M806.28 2455.7h0M806.03 2456.5h0M805.75 2457.3h0M806.27 2458.1h0M806.23 2458.9h0M805.92 2459.7h0M805.78 2460.5h0M805.54 2461.3h0M806.14 2462.1h0M806.84 2462.9h0M806.22 2463.7h0M806.31 2464.5h0M805.1 2465.3h0M804.93 2466.1h0M806.25 2466.9h0M805.49 2467.7h0M806.53 2468.5h0M805.7 2469.3h0M805.74 2470.1h0M806.08 2470.9h0M805.6 2471.7h0M804.46 2472.5h0M806.62 2473.3h0M805.62 2474.1h0M806.07 2474.9h0M805.44 2475.7h0M805.58 2476.5h0M805.73 2477.3h0M806.22 2478.1h0M806.06 2478.9h0M804.86 2479.7h0M806.18 2480.5h0M805.91 2481.3h0M805.79 2482.1h0M806.4 2482.9h0M804.65 2483.7h0M806.03 2484.5h0M805.87 2485.3h0M806.4 2486.1h0M806.25 2486.9h0M806.54 2487.7h0M805.34 2488.5h0M806.63 2489.3h0M805.27 2490.1h0M806.04 2490.9h0M805.87 2491.7h0M806.52 2492.5h0M806.07 2493.3h0M806.48 2494.1h0M806.56 2494.9h0M806.08 2495.7h0M806.81 2496.5h0M806.43 2497.3h0M805.18 2498.1h0M805.71 2498.9h0M805.84 2499.7h0M806.24 2500.5h0M806.04 2501.3h0M806.66 2502.1h0M806.02 2502.9h0M806.9 2503.7h0M806.66 2504.5h0M805.45 2505.3h0M806.36 2506.1h0M806.03 2506.9h0M806.82 2507.7h0M807.38 2508.5h0M805.63 2509.3h0M806.32 2510.1h0M807.87 2510.9h0M805.79 2511.7h0M806.87 2512.5h0M805.35 2513.3h0M806.43 2514.1h0M806.31 2514.9h0M805.78 2515.7h0M805.84 2516.5h0M807.09 2517.3h0M806.5 2518.1h0M807.43 2518.9h0M806.1 2519.7h0" stroke="#a0101e" stroke-width="5.6" stroke-linecap="round" fill="none"/>
<rect x="1018.9" y="269.5" width="60.6" height="55.5" fill="none" stroke="#0000ff" stroke-width="2" stroke-linejoin="round"/>
<rect x="1019.4" y="354.3" width="59" height="53.3" fill="#4d4d4d" stroke="none" stroke-width="0" />
<text transform="translate(1090.7 290) scale(1 1.04)" font-size="29.45" text-anchor="start" >Volume Specific</text>
<text transform="translate(1089.5 326.2) scale(1 1.04)" font-size="29.45" text-anchor="start" >O<tspan dy="6" font-size="29">2</tspan><tspan dy="-6"> Consumption</tspan></text>
<text transform="translate(1087.1 374.2) scale(1 1.04)" font-size="29.45" text-anchor="start" >Meiofauna</text>
<text transform="translate(1087.1 410.2) scale(1 1.04)" font-size="29.45" text-anchor="start" >Respiration</text>
<text transform="translate(1241.9 393) scale(1 1.04)" font-size="29.45" text-anchor="start" >x 5</text>
</svg></body></html>
